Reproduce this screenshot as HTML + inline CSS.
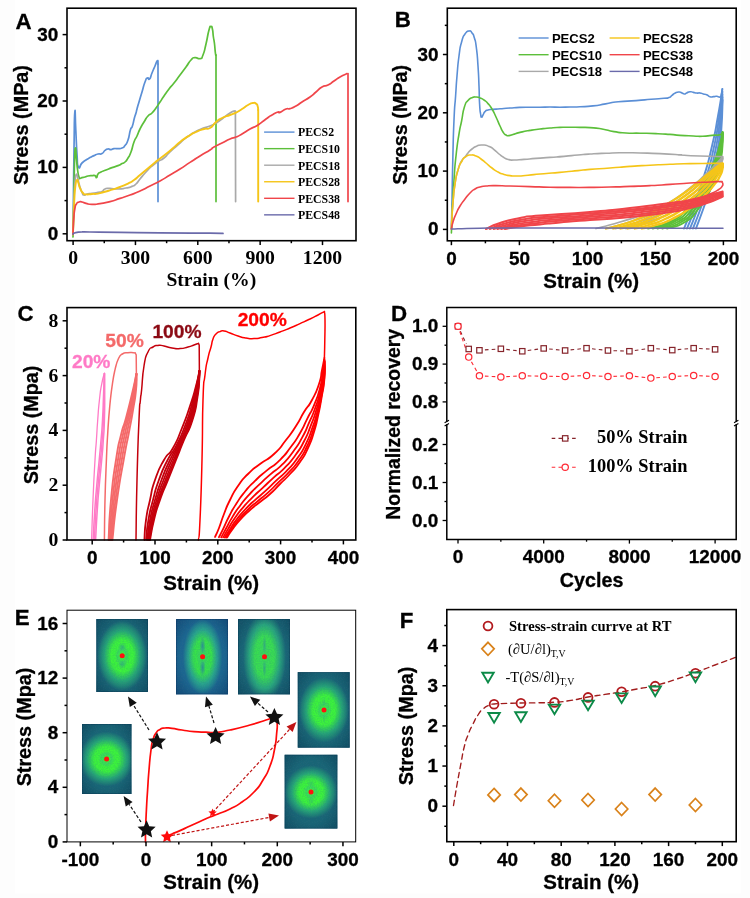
<!DOCTYPE html>
<html lang="en">
<head>
<meta charset="utf-8">
<title>Figure: mechanical properties of PECS elastomers</title>
<style>
html,body{margin:0;padding:0;background:#fff;}
body{width:750px;height:898px;overflow:hidden;}
svg{display:block;}
.sa{font-family:'Liberation Sans', 'DejaVu Sans', sans-serif;font-weight:bold;}
.se{font-family:'Liberation Serif', 'DejaVu Serif', serif;font-weight:bold;}
</style>
</head>
<body>
<svg width="750" height="898" viewBox="0 0 750 898">
<rect width="750" height="898" fill="#fdfdfd"/>
<rect x="15" y="0" width="726" height="893.5" fill="#fff"/>
<path d="M73 234 C73.13 222.67 73.07 228 73.4 200 C73.73 172 73.53 179.2 74 150 C74.47 120.8 74.2 119.07 74.8 112.4 C75.4 105.73 75.07 116.13 75.8 130 C76.53 143.87 76.13 141.67 77 154 C77.87 166.33 76.73 164 78.4 167 C80.07 170 79.47 165.33 82 163 C84.53 160.67 83.33 161.8 86 160 C88.67 158.2 87.33 159.07 90 157.6 C92.67 156.13 91.33 156.8 94 155.6 C96.67 154.4 95.33 154.67 98 154 C100.67 153.33 99.67 154.8 102 153.6 C104.33 152.4 103 151.93 105 150.4 C107 148.87 106 149.27 108 149 C110 148.73 109 149.73 111 149.6 C113 149.47 111.67 148.93 114 148.6 C116.33 148.27 115.33 148.8 118 148.6 C120.67 148.4 119.67 149 122 148 C124.33 147 123 148.27 125 145.6 C127 142.93 126.2 145.2 128 140 C129.8 134.8 128.93 134.67 130.4 130 C131.87 125.33 131.07 130 132.4 126 C133.73 122 133.2 122.33 134.4 118 C135.6 113.67 135.13 116 136 113 C136.87 110 136 112.67 137 109 C138 105.33 137.33 107.67 139 102 C140.67 96.33 140 98.67 142 92 C144 85.33 143.2 86.67 145 82 C146.8 77.33 145.87 79 147.4 78 C148.93 77 148.07 80.67 149.6 79 C151.13 77.33 150.2 77.33 152 73 C153.8 68.67 153.2 70.13 155 66 C156.8 61.87 156.4 61.27 157.4 60.6 C158.4 59.93 157.8 62.87 158 64" stroke="#5b8fd6" stroke-width="1.7" fill="none" stroke-linejoin="round" stroke-linecap="round"/>
<path d="M158 64 L158 201.6" stroke="#5b8fd6" stroke-width="1.7" fill="none" stroke-linejoin="round" stroke-linecap="round"/>
<path d="M73 237 C73.13 231.33 73.07 235.67 73.4 220 C73.73 204.33 73.6 210 74 190 C74.4 170 74.13 174 74.6 160 C75.07 146 74.8 148.67 75.4 148 C76 147.33 75.67 150.67 76.4 158 C77.13 165.33 76.73 163.67 77.6 170 C78.47 176.33 78.2 174.2 79 177 C79.8 179.8 79 178.2 80 178.4 C81 178.6 80.33 178.07 82 177.6 C83.67 177.13 83 177.53 85 177 C87 176.47 85.67 176.47 88 176 C90.33 175.53 89.67 175.73 92 175.6 C94.33 175.47 93.47 174.93 95 175.6 C96.53 176.27 95.6 178.13 96.6 177.6 C97.6 177.07 96.53 175.87 98 174 C99.47 172.13 98.33 173.33 101 172 C103.67 170.67 102.33 171.47 106 170 C109.67 168.53 108 169.07 112 167.6 C116 166.13 114.67 166.93 118 165.6 C121.33 164.27 119.67 164.8 122 163.6 C124.33 162.4 123 163.87 125 162 C127 160.13 126 161.33 128 158 C130 154.67 129 157.33 131 152 C133 146.67 132 147.33 134 142 C136 136.67 135 140.33 137 136 C139 131.67 137.67 133.67 140 129 C142.33 124.33 141.33 126.33 144 122 C146.67 117.67 145.33 119 148 116 C150.67 113 149.33 115.67 152 113 C154.67 110.33 153.33 111.67 156 108 C158.67 104.33 157.33 106 160 102 C162.67 98 161 100.33 164 96 C167 91.67 165.67 93.33 169 89 C172.33 84.67 170.33 87.67 174 83 C177.67 78.33 176 80.33 180 75 C184 69.67 182.33 72 186 67 C189.67 62 188 63.13 191 60 C194 56.87 192 58.07 195 57.6 C198 57.13 197.33 59.47 200 58.6 C202.67 57.73 201 59.87 203 55 C205 50.13 204 52.33 206 44 C208 35.67 207.33 35.8 209 30 C210.67 24.2 209.87 26.93 211 26.6 C212.13 26.27 211.6 25.53 212.4 29 C213.2 32.47 212.73 32.33 213.4 37 C214.07 41.67 213.73 37.67 214.4 43 C215.07 48.33 214.87 49 215.4 53 C215.93 57 215.8 54.33 216 55" stroke="#5cbf3a" stroke-width="1.7" fill="none" stroke-linejoin="round" stroke-linecap="round"/>
<path d="M216 55 L216 201.6" stroke="#5cbf3a" stroke-width="1.7" fill="none" stroke-linejoin="round" stroke-linecap="round"/>
<path d="M73 234.4 C73.13 229.6 73.07 231.47 73.4 220 C73.73 208.53 73.47 212.67 74 200 C74.53 187.33 74.2 190.53 75 182 C75.8 173.47 75.4 175.4 76.4 174.4 C77.4 173.4 77 175.47 78 179 C79 182.53 78.07 180.53 79.4 185 C80.73 189.47 80.47 189.07 82 192.4 C83.53 195.73 82.33 194.47 84 195 C85.67 195.53 84.33 194.53 87 194 C89.67 193.47 88.33 193.93 92 193.4 C95.67 192.87 94.67 193 98 192.4 C101.33 191.8 99.67 192.73 102 191.6 C104.33 190.47 102.33 190.07 105 189 C107.67 187.93 105.67 188.4 110 188.4 C114.33 188.4 112.67 189.13 118 189 C123.33 188.87 121.33 188.87 126 188 C130.67 187.13 128.67 187.73 132 186.4 C135.33 185.07 133.33 186.47 136 184 C138.67 181.53 136.67 183 140 179 C143.33 175 142 176.33 146 172 C150 167.67 148 169.47 152 166 C156 162.53 154 164.27 158 161.6 C162 158.93 160 161.2 164 158 C168 154.8 164.67 157 170 152 C175.33 147 173.33 148.67 180 143 C186.67 137.33 183.33 139.47 190 135 C196.67 130.53 193.33 132.6 200 129.6 C206.67 126.6 204.67 128.2 210 126 C215.33 123.8 212 125.33 216 123 C220 120.67 217.33 122.33 222 119 C226.67 115.67 225.73 115.67 230 113 C234.27 110.33 233.2 111.67 234.8 111" stroke="#a9a9a9" stroke-width="1.7" fill="none" stroke-linejoin="round" stroke-linecap="round"/>
<path d="M235.4 111 L235.6 201.6" stroke="#a9a9a9" stroke-width="1.7" fill="none" stroke-linejoin="round" stroke-linecap="round"/>
<path d="M73 234.4 C73.13 230.27 73 232.8 73.4 222 C73.8 211.2 73.53 214 74.2 202 C74.87 190 74.47 193.33 75.4 186 C76.33 178.67 76 181 77 180 C78 179 77.4 180.33 78.4 183 C79.4 185.67 78.47 184.67 80 188 C81.53 191.33 81 190.87 83 193 C85 195.13 83 194.07 86 194.4 C89 194.73 88 194.27 92 194 C96 193.73 94 194.27 98 193.6 C102 192.93 99.33 193.33 104 192 C108.67 190.67 106.67 191.27 112 189.6 C117.33 187.93 114.67 189 120 187 C125.33 185 123.33 185.93 128 183.6 C132.67 181.27 130 182.87 134 180 C138 177.13 136 178.33 140 175 C144 171.67 142 173.33 146 170 C150 166.67 148 168.33 152 165 C156 161.67 154 163.13 158 160 C162 156.87 159.33 159.27 164 155.6 C168.67 151.93 166.67 153.53 172 149 C177.33 144.47 174.67 146.2 180 142 C185.33 137.8 182.67 139.73 188 136.4 C193.33 133.07 190.67 134.47 196 132 C201.33 129.53 199.33 130.33 204 129 C208.67 127.67 206 130.33 210 128 C214 125.67 212 125.33 216 122 C220 118.67 217.33 120.33 222 118 C226.67 115.67 225.33 116.8 230 115 C234.67 113.2 232 114.6 236 112.6 C240 110.6 238 111.53 242 109 C246 106.47 244.33 107 248 105 C251.67 103 250.33 103.47 253 103 C255.67 102.53 254.47 102.6 256 103.6 C257.53 104.6 256.87 103.87 257.6 106 C258.33 108.13 258 108.67 258.2 110" stroke="#f5c518" stroke-width="1.9" fill="none" stroke-linejoin="round" stroke-linecap="round"/>
<path d="M258.2 110 L258.2 201.6" stroke="#f5c518" stroke-width="1.9" fill="none" stroke-linejoin="round" stroke-linecap="round"/>
<path d="M73 234.4 C73.07 232.27 72.93 233.47 73.2 228 C73.47 222.53 73.27 224.33 73.8 218 C74.33 211.67 73.93 213.67 74.8 209 C75.67 204.33 75 206.33 76.4 204 C77.8 201.67 77.13 202.67 79 202 C80.87 201.33 79.67 201.53 82 202 C84.33 202.47 82.67 202.6 86 203.4 C89.33 204.2 87.33 204.33 92 204.4 C96.67 204.47 94 204.53 100 203.6 C106 202.67 103.33 203.33 110 201.6 C116.67 199.87 113.33 200.6 120 198.4 C126.67 196.2 123.33 197.47 130 195 C136.67 192.53 133.33 194 140 191 C146.67 188 143.33 189.33 150 186 C156.67 182.67 153.33 184.67 160 181 C166.67 177.33 163.33 179 170 175 C176.67 171 173.33 173.2 180 169 C186.67 164.8 183.33 166.73 190 162.4 C196.67 158.07 193.33 160.13 200 156 C206.67 151.87 205.33 153 210 150 C214.67 147 210 149.33 214 147 C218 144.67 216.67 145.67 222 143 C227.33 140.33 225.33 141 230 139 C234.67 137 232 138.67 236 137 C240 135.33 237.33 136.67 242 134 C246.67 131.33 244.67 132 250 129 C255.33 126 252.67 128.33 258 125 C263.33 121.67 261.33 122.33 266 119 C270.67 115.67 268 117.33 272 115 C276 112.67 275.33 112.87 278 112 C280.67 111.13 277.33 113.4 280 112.4 C282.67 111.4 282.67 110.27 286 109 C289.33 107.73 286.67 109.6 290 108.6 C293.33 107.6 292 108.2 296 106 C300 103.8 297.33 105 302 102 C306.67 99 305.33 100.33 310 97 C314.67 93.67 312 95.33 316 92 C320 88.67 318 89.33 322 87 C326 84.67 324 87 328 85 C332 83 330 83.67 334 81 C338 78.33 335.67 79.47 340 77 C344.33 74.53 344.67 74.73 347 73.6" stroke="#f0454a" stroke-width="1.7" fill="none" stroke-linejoin="round" stroke-linecap="round"/>
<path d="M348 73.6 L348 201.6" stroke="#f0454a" stroke-width="1.7" fill="none" stroke-linejoin="round" stroke-linecap="round"/>
<path d="M73 234 C73.47 233.67 73.07 233.53 74.4 233 C75.73 232.47 74.47 232.73 77 232.4 C79.53 232.07 77.67 232.13 82 232 C86.33 231.87 77.33 231.87 90 232 C102.67 232.13 96.67 232.13 120 232.4 C143.33 232.67 130 232.53 160 232.8 C190 233.07 189 233 210 233.2 C231 233.4 218.67 233.33 223 233.4" stroke="#6a6aaa" stroke-width="1.7" fill="none" stroke-linejoin="round" stroke-linecap="round"/>
<rect x="67" y="8.2" width="289" height="232.5" fill="none" stroke="#000" stroke-width="1.6"/>
<line x1="62.6" y1="233.8" x2="67" y2="233.8" stroke="#000" stroke-width="1.5"/>
<text class="sa" x="58.3" y="239.8" font-size="18.9" text-anchor="end" stroke="#000" stroke-width="0.3">0</text>
<line x1="62.6" y1="167.4" x2="67" y2="167.4" stroke="#000" stroke-width="1.5"/>
<text class="sa" x="58.3" y="173.4" font-size="18.9" text-anchor="end" stroke="#000" stroke-width="0.3">10</text>
<line x1="62.6" y1="101" x2="67" y2="101" stroke="#000" stroke-width="1.5"/>
<text class="sa" x="58.3" y="107" font-size="18.9" text-anchor="end" stroke="#000" stroke-width="0.3">20</text>
<line x1="62.6" y1="34.6" x2="67" y2="34.6" stroke="#000" stroke-width="1.5"/>
<text class="sa" x="58.3" y="40.6" font-size="18.9" text-anchor="end" stroke="#000" stroke-width="0.3">30</text>
<line x1="64.5" y1="200.6" x2="67" y2="200.6" stroke="#000" stroke-width="1.5"/>
<line x1="64.5" y1="134.2" x2="67" y2="134.2" stroke="#000" stroke-width="1.5"/>
<line x1="64.5" y1="67.8" x2="67" y2="67.8" stroke="#000" stroke-width="1.5"/>
<line x1="73.1" y1="240.7" x2="73.1" y2="245.1" stroke="#000" stroke-width="1.5"/>
<text class="se" x="73.1" y="264" font-size="19.7" text-anchor="middle">0</text>
<line x1="135.45" y1="240.7" x2="135.45" y2="245.1" stroke="#000" stroke-width="1.5"/>
<text class="se" x="135.45" y="264" font-size="19.7" text-anchor="middle">300</text>
<line x1="197.8" y1="240.7" x2="197.8" y2="245.1" stroke="#000" stroke-width="1.5"/>
<text class="se" x="197.8" y="264" font-size="19.7" text-anchor="middle">600</text>
<line x1="260.15" y1="240.7" x2="260.15" y2="245.1" stroke="#000" stroke-width="1.5"/>
<text class="se" x="260.15" y="264" font-size="19.7" text-anchor="middle">900</text>
<line x1="322.5" y1="240.7" x2="322.5" y2="245.1" stroke="#000" stroke-width="1.5"/>
<text class="se" x="322.5" y="264" font-size="19.7" text-anchor="middle">1200</text>
<line x1="104.27" y1="240.7" x2="104.27" y2="243.2" stroke="#000" stroke-width="1.5"/>
<line x1="166.62" y1="240.7" x2="166.62" y2="243.2" stroke="#000" stroke-width="1.5"/>
<line x1="228.97" y1="240.7" x2="228.97" y2="243.2" stroke="#000" stroke-width="1.5"/>
<line x1="291.33" y1="240.7" x2="291.33" y2="243.2" stroke="#000" stroke-width="1.5"/>
<text class="sa" x="23.6" y="29.4" font-size="22.3" text-anchor="middle" stroke="#000" stroke-width="0.3">A</text>
<text class="sa" x="27.7" y="125" font-size="19.8" text-anchor="middle" stroke="#000" stroke-width="0.3" transform="rotate(-90 27.7 125)">Stress (MPa)</text>
<text class="se" x="211.3" y="285.8" font-size="19.6" text-anchor="middle">Strain (%)</text>
<line x1="264.1" y1="132.1" x2="294.5" y2="132.1" stroke="#5b8fd6" stroke-width="1.4"/>
<text class="se" x="298" y="136.4" font-size="11.8" text-anchor="start">PECS2</text>
<line x1="264.1" y1="148.65" x2="294.5" y2="148.65" stroke="#5cbf3a" stroke-width="1.4"/>
<text class="se" x="298" y="152.95" font-size="11.8" text-anchor="start">PECS10</text>
<line x1="264.1" y1="165.2" x2="294.5" y2="165.2" stroke="#a9a9a9" stroke-width="1.4"/>
<text class="se" x="298" y="169.5" font-size="11.8" text-anchor="start">PECS18</text>
<line x1="264.1" y1="181.75" x2="294.5" y2="181.75" stroke="#f5c518" stroke-width="1.4"/>
<text class="se" x="298" y="186.05" font-size="11.8" text-anchor="start">PECS28</text>
<line x1="264.1" y1="198.3" x2="294.5" y2="198.3" stroke="#f0454a" stroke-width="1.4"/>
<text class="se" x="298" y="202.6" font-size="11.8" text-anchor="start">PECS38</text>
<line x1="264.1" y1="214.85" x2="294.5" y2="214.85" stroke="#6a6aaa" stroke-width="1.4"/>
<text class="se" x="298" y="219.15" font-size="11.8" text-anchor="start">PECS48</text>
<path d="M451.4 229 C451.6 219.33 451.53 223 452 200 C452.47 177 452.13 186.67 452.8 160 C453.47 133.33 453.07 141.33 454 120 C454.93 98.67 454.6 110.67 455.6 96 C456.6 81.33 455.87 89.33 457 76 C458.13 62.67 457.47 67.33 459 56 C460.53 44.67 459.6 49.33 461.6 42 C463.6 34.67 462.53 37.67 465 34 C467.47 30.33 466.67 31.33 469 31 C471.33 30.67 470.2 30.67 472 33 C473.8 35.33 472.93 33 474.4 38 C475.87 43 475.2 38.67 476.4 48 C477.6 57.33 477.13 53.33 478 66 C478.87 78.67 478.47 73.33 479 86 C479.53 98.67 479.07 94.67 479.6 104 C480.13 113.33 479.93 109.67 480.6 114 C481.27 118.33 480.8 116.67 481.6 117 C482.4 117.33 481.87 116.8 483 115 C484.13 113.2 483.33 113.27 485 111.6 C486.67 109.93 485.33 110.73 488 110 C490.67 109.27 489 109.8 493 109.4 C497 109 494.33 109.27 500 108.8 C505.67 108.33 503.33 108.47 510 108 C516.67 107.53 513.33 107.67 520 107.4 C526.67 107.13 523.33 107.27 530 107.2 C536.67 107.13 533.33 107.27 540 107.2 C546.67 107.13 543.33 107 550 107 C556.67 107 553.33 107.2 560 107.2 C566.67 107.2 563.33 107.13 570 107 C576.67 106.87 572.33 107.17 580 106.8 C587.67 106.43 584.47 106.87 593 105.9 C601.53 104.93 597.17 105.27 605.6 103.9 C614.03 102.53 608.17 102.9 618.3 101.8 C628.43 100.7 625.03 101.43 636 100.6 C646.97 99.77 641.87 100.07 651.2 99.3 C660.53 98.53 658.07 98.87 664 98.3 C669.93 97.73 666.33 98.59 669 97.6 C671.67 96.61 669.89 96.89 672 95.33 C674.11 93.78 672.89 94.04 675.33 92.93 C677.78 91.82 677.11 91.96 679.33 92 C681.56 92.04 680.31 92.4 682 93.07 C683.69 93.73 682.84 94.04 684.4 94 C685.96 93.96 684.8 93.69 686.67 92.93 C688.53 92.18 687.78 91.91 690 91.73 C692.22 91.56 691.11 91.96 693.33 92.4 C695.56 92.84 694.44 92.89 696.67 93.07 C698.89 93.24 697.78 92.62 700 92.93 C702.22 93.24 701.11 93.42 703.33 94 C705.56 94.58 704.44 93.78 706.67 94.67 C708.89 95.56 707.78 96 710 96.67 C712.22 97.33 711.11 96.8 713.33 96.67 C715.56 96.53 714.44 96.13 716.67 96.27 C718.89 96.4 718.44 97.6 720 97.07 C721.56 96.53 720.58 97.33 721.33 94.67 C722.09 92 721.96 90.93 722.27 89.07" stroke="#5b8fd6" stroke-width="1.6" fill="none" stroke-linejoin="round" stroke-linecap="round"/>
<path d="M684 228.5 C687.33 220.33 687.33 221.5 694 204 C700.67 186.5 698 195.33 704 176 C710 156.67 707.33 166 712 146 C716.67 126 714.53 135 718 116 C721.47 97 720.93 98 722.4 89" stroke="#5b8fd6" stroke-width="1.9" fill="none" stroke-linejoin="round" stroke-linecap="round"/>
<path d="M687 228.5 C690.25 220.33 690.33 221.17 696.75 204 C703.17 186.83 700.62 195.5 706.25 177 C711.88 158.5 709.43 167.67 713.62 148.5 C717.82 129.33 715.88 138.42 718.83 119.5 C721.77 100.58 721.24 101 722.45 91.75" stroke="#5b8fd6" stroke-width="1.9" fill="none" stroke-linejoin="round" stroke-linecap="round"/>
<path d="M690 228.5 C693.17 220.33 693.33 220.83 699.5 204 C705.67 187.17 703.25 195.67 708.5 178 C713.75 160.33 711.53 169.33 715.25 151 C718.97 132.67 717.23 141.83 719.65 123 C722.07 104.17 721.55 104 722.5 94.5" stroke="#5b8fd6" stroke-width="1.9" fill="none" stroke-linejoin="round" stroke-linecap="round"/>
<path d="M693 228.5 C696.08 220.33 696.33 220.5 702.25 204 C708.17 187.5 705.88 195.83 710.75 179 C715.62 162.17 713.63 171 716.88 153.5 C720.12 136 718.58 145.25 720.47 126.5 C722.37 107.75 721.86 107 722.55 97.25" stroke="#5b8fd6" stroke-width="1.9" fill="none" stroke-linejoin="round" stroke-linecap="round"/>
<path d="M696 228.5 C699 220.33 699.33 220.17 705 204 C710.67 187.83 708.5 196 713 180 C717.5 164 715.73 172.67 718.5 156 C721.27 139.33 719.93 148.67 721.3 130 C722.67 111.33 722.17 110 722.6 100" stroke="#5b8fd6" stroke-width="1.9" fill="none" stroke-linejoin="round" stroke-linecap="round"/>
<path d="M451.4 233 C451.73 224.67 451.53 225.67 452.4 208 C453.27 190.33 452.8 197.33 454 180 C455.2 162.67 454.33 171.33 456 156 C457.67 140.67 457.13 145.67 459 134 C460.87 122.33 459.8 130 461.6 121 C463.4 112 462.27 113.8 464.4 107 C466.53 100.2 465.47 103.67 468 100.6 C470.53 97.53 469.33 99 472 97.8 C474.67 96.6 473.33 96.93 476 97 C478.67 97.07 477.33 97 480 98 C482.67 99 481.33 98.13 484 100 C486.67 101.87 485.33 100.6 488 103.6 C490.67 106.6 489.33 104.53 492 109 C494.67 113.47 493.33 111.33 496 117 C498.67 122.67 497.67 121 500 126 C502.33 131 501 129 503 132 C505 135 504 133.8 506 135 C508 136.2 506.67 135.8 509 135.6 C511.33 135.4 509.33 135.47 513 134.4 C516.67 133.33 514.33 133.73 520 132.4 C525.67 131.07 523.33 131.53 530 130.4 C536.67 129.27 533.33 129.8 540 129 C546.67 128.2 543.33 128.53 550 128 C556.67 127.47 553.33 127.67 560 127.4 C566.67 127.13 563.33 127.2 570 127.2 C576.67 127.2 573.33 127.27 580 127.4 C586.67 127.53 582.67 127.07 590 127.6 C597.33 128.13 594 127.67 602 129 C610 130.33 606 130.27 614 131.6 C622 132.93 617.33 132.47 626 133 C634.67 133.53 630 133 640 133.2 C650 133.4 646 133.2 656 133.6 C666 134 662 133.82 670 134.4 C678 134.98 672.22 134.8 680 135.33 C687.78 135.87 685.78 135.69 693.33 136 C700.89 136.31 696.44 136.49 702.67 136.27 C708.89 136.04 706.22 135.87 712 135.33 C717.78 134.8 716.44 135.69 720 134.67 C723.56 133.64 721.78 133.07 722.67 132.27" stroke="#5cbf3a" stroke-width="1.6" fill="none" stroke-linejoin="round" stroke-linecap="round"/>
<path d="M648 228.5 C655.33 226.33 657.33 228.17 670 222 C682.67 215.83 676.67 219.33 686 210 C695.33 200.67 690.67 205.33 698 194 C705.33 182.67 702.33 187.33 708 176 C713.67 164.67 711 170.67 715 160 C719 149.33 717.47 153.33 720 144 C722.53 134.67 721.73 136 722.6 132" stroke="#5cbf3a" stroke-width="2" fill="none" stroke-linejoin="round" stroke-linecap="round"/>
<path d="M652.75 228.5 C659.75 226.33 661.58 228.33 673.75 222 C685.92 215.67 680.25 219 689.25 209.5 C698.25 200 693.83 204.67 700.75 193.5 C707.67 182.33 704.79 187.17 710 176 C715.21 164.83 712.84 170.5 716.38 160 C719.91 149.5 718.51 153.67 720.6 144.5 C722.69 135.33 721.97 136.5 722.65 132.5" stroke="#5cbf3a" stroke-width="2" fill="none" stroke-linejoin="round" stroke-linecap="round"/>
<path d="M657.5 228.5 C664.17 226.33 665.83 228.5 677.5 222 C689.17 215.5 683.83 218.67 692.5 209 C701.17 199.33 697 204 703.5 193 C710 182 707.25 187 712 176 C716.75 165 714.68 170.33 717.75 160 C720.82 149.67 719.55 154 721.2 145 C722.85 136 722.2 137 722.7 133" stroke="#5cbf3a" stroke-width="2" fill="none" stroke-linejoin="round" stroke-linecap="round"/>
<path d="M662.25 228.5 C668.58 226.33 670.08 228.67 681.25 222 C692.42 215.33 687.42 218.33 695.75 208.5 C704.08 198.67 700.17 203.33 706.25 192.5 C712.33 181.67 709.71 186.83 714 176 C718.29 165.17 716.52 170.17 719.12 160 C721.73 149.83 720.59 154.33 721.8 145.5 C723.01 136.67 722.43 137.5 722.75 133.5" stroke="#5cbf3a" stroke-width="2" fill="none" stroke-linejoin="round" stroke-linecap="round"/>
<path d="M667 228.5 C673 226.33 674.33 228.83 685 222 C695.67 215.17 691 218 699 208 C707 198 703.33 202.67 709 192 C714.67 181.33 712.17 186.67 716 176 C719.83 165.33 718.37 170 720.5 160 C722.63 150 721.63 154.67 722.4 146 C723.17 137.33 722.67 138 722.8 134" stroke="#5cbf3a" stroke-width="2" fill="none" stroke-linejoin="round" stroke-linecap="round"/>
<path d="M451.4 229 C451.6 224.67 451.4 225.67 452 216 C452.6 206.33 452.2 210.67 453.2 200 C454.2 189.33 453.4 194 455 184 C456.6 174 455.8 177.67 458 170 C460.2 162.33 459.27 165.33 461.6 161 C463.93 156.67 462.87 159.67 465 157 C467.13 154.33 465.67 155.67 468 153 C470.33 150.33 469 151.33 472 149 C475 146.67 473.33 147.33 477 146 C480.67 144.67 479 144.87 483 145 C487 145.13 485.33 144.87 489 146.4 C492.67 147.93 490.67 147.07 494 149.6 C497.33 152.13 495.67 151.33 499 154 C502.33 156.67 500.67 155.73 504 157.6 C507.33 159.47 505.67 158.8 509 159.6 C512.33 160.4 509 160.07 514 160 C519 159.93 516.67 159.93 524 159.4 C531.33 158.87 527.33 159.07 536 158.4 C544.67 157.73 540.67 158.07 550 157.4 C559.33 156.73 554.67 157.2 564 156.4 C573.33 155.6 569.33 155.8 578 155 C586.67 154.2 580.67 154.6 590 154 C599.33 153.4 595.33 153.6 606 153.2 C616.67 152.8 610.67 152.87 622 152.8 C633.33 152.73 627.33 152.73 640 153 C652.67 153.27 646.67 153 660 153.6 C673.33 154.2 673.33 154.36 680 154.8 C686.67 155.24 673.33 154.53 680 154.93 C686.67 155.33 685.78 155.42 700 156 C714.22 156.58 715.11 156.44 722.67 156.67" stroke="#a9a9a9" stroke-width="1.6" fill="none" stroke-linejoin="round" stroke-linecap="round"/>
<path d="M596 228.5 C604 226.33 602 227.5 620 222 C638 216.5 633.33 218.67 650 212 C666.67 205.33 656.67 210 670 202 C683.33 194 678 197.33 690 188 C702 178.67 697.33 182 706 174 C714.67 166 710.47 169.67 716 164 C721.53 158.33 720.4 159.33 722.6 157" stroke="#a9a9a9" stroke-width="1.8" fill="none" stroke-linejoin="round" stroke-linecap="round"/>
<path d="M606 228.5 C613.78 226.33 612.22 227.5 629.33 222 C646.44 216.5 641.56 218.89 657.33 212 C673.11 205.11 664.22 209.33 676.67 201.33 C689.11 193.33 684 196.89 694.67 188 C705.33 179.11 701.11 182.44 708.67 174.67 C716.22 166.89 712.67 170.33 717.33 164.67 C722 159 720.89 160 722.67 157.67" stroke="#a9a9a9" stroke-width="1.8" fill="none" stroke-linejoin="round" stroke-linecap="round"/>
<path d="M616 228.5 C623.56 226.33 622.44 227.5 638.67 222 C654.89 216.5 649.78 219.11 664.67 212 C679.56 204.89 671.78 208.67 683.33 200.67 C694.89 192.67 690 196.44 699.33 188 C708.67 179.56 704.89 182.89 711.33 175.33 C717.78 167.78 714.87 171 718.67 165.33 C722.47 159.67 721.38 160.67 722.73 158.33" stroke="#a9a9a9" stroke-width="1.8" fill="none" stroke-linejoin="round" stroke-linecap="round"/>
<path d="M626 228.5 C633.33 226.33 632.67 227.5 648 222 C663.33 216.5 658 219.33 672 212 C686 204.67 679.33 208 690 200 C700.67 192 696 196 704 188 C712 180 708.67 183.33 714 176 C719.33 168.67 717.07 171.67 720 166 C722.93 160.33 721.87 161.33 722.8 159" stroke="#a9a9a9" stroke-width="1.8" fill="none" stroke-linejoin="round" stroke-linecap="round"/>
<path d="M451.4 229 C451.6 224.67 451.4 225.67 452 216 C452.6 206.33 452.2 210.67 453.2 200 C454.2 189.33 453.4 194 455 184 C456.6 174 455.67 177.67 458 170 C460.33 162.33 459.33 165.47 462 161 C464.67 156.53 463 158.6 466 156.6 C469 154.6 467.67 155.2 471 155 C474.33 154.8 472.67 154.67 476 156 C479.33 157.33 477.67 156.67 481 159 C484.33 161.33 482.33 160 486 163 C489.67 166 488 165 492 168 C496 171 494 169.87 498 172 C502 174.13 500 173.2 504 174.4 C508 175.6 505.33 175.07 510 175.6 C514.67 176.13 512 176.13 518 176 C524 175.87 520.67 175.87 528 175.2 C535.33 174.53 532 174.73 540 174 C548 173.27 544 173.67 552 173 C560 172.33 555.33 172.8 564 172 C572.67 171.2 569.33 171.47 578 170.6 C586.67 169.73 579.33 170.27 590 169.4 C600.67 168.53 596.67 169 610 168 C623.33 167 616.67 167.33 630 166.4 C643.33 165.47 636.67 165.93 650 165.2 C663.33 164.47 656.67 164.73 670 164.2 C683.33 163.67 676.67 163.87 690 163.6 C703.33 163.33 699.13 163.5 710 163.4 C720.87 163.3 718.4 163.33 722.6 163.3" stroke="#f5c518" stroke-width="1.6" fill="none" stroke-linejoin="round" stroke-linecap="round"/>
<path d="M606 228.5 C610.67 227.33 608.67 228.5 620 225 C631.33 221.5 626.67 223.67 640 218 C653.33 212.33 646.67 215.33 660 208 C673.33 200.67 668 204 680 196 C692 188 686.67 191.33 696 184 C705.33 176.67 700.67 180 708 174 C715.33 168 713.13 169.5 718 166 C722.87 162.5 721.07 164.33 722.6 163.5" stroke="#f5c518" stroke-width="2.3" fill="none" stroke-linejoin="round" stroke-linecap="round"/>
<path d="M613.2 228.5 C617.87 227.33 616.13 228.43 627.2 225 C638.27 221.57 633.47 223.87 646.4 218.2 C659.33 212.53 653.2 215.4 666 208 C678.8 200.6 673.6 203.93 684.8 196 C696 188.07 691.07 191.4 699.6 184.2 C708.13 177 703.97 180.27 710.4 174.4 C716.83 168.53 714.82 170.13 718.9 166.6 C722.98 163.07 721.39 164.73 722.64 163.8" stroke="#f5c518" stroke-width="2.3" fill="none" stroke-linejoin="round" stroke-linecap="round"/>
<path d="M620.4 228.5 C625.07 227.33 623.6 228.37 634.4 225 C645.2 221.63 640.27 224.07 652.8 218.4 C665.33 212.73 659.73 215.47 672 208 C684.27 200.53 679.2 203.87 689.6 196 C700 188.13 695.47 191.47 703.2 184.4 C710.93 177.33 707.27 180.53 712.8 174.8 C718.33 169.07 716.51 170.77 719.8 167.2 C723.09 163.63 721.72 165.13 722.68 164.1" stroke="#f5c518" stroke-width="2.3" fill="none" stroke-linejoin="round" stroke-linecap="round"/>
<path d="M627.6 228.5 C632.27 227.33 631.07 228.3 641.6 225 C652.13 221.7 647.07 224.27 659.2 218.6 C671.33 212.93 666.27 215.53 678 208 C689.73 200.47 684.8 203.8 694.4 196 C704 188.2 699.87 191.53 706.8 184.6 C713.73 177.67 710.57 180.8 715.2 175.2 C719.83 169.6 718.19 171.4 720.7 167.8 C723.21 164.2 722.05 165.53 722.72 164.4" stroke="#f5c518" stroke-width="2.3" fill="none" stroke-linejoin="round" stroke-linecap="round"/>
<path d="M634.8 228.5 C639.47 227.33 638.53 228.23 648.8 225 C659.07 221.77 653.87 224.47 665.6 218.8 C677.33 213.13 672.8 215.6 684 208 C695.2 200.4 690.4 203.73 699.2 196 C708 188.27 704.27 191.6 710.4 184.8 C716.53 178 713.87 181.07 717.6 175.6 C721.33 170.13 719.88 172.03 721.6 168.4 C723.32 164.77 722.37 165.93 722.76 164.7" stroke="#f5c518" stroke-width="2.3" fill="none" stroke-linejoin="round" stroke-linecap="round"/>
<path d="M642 228.5 C646.67 227.33 646 228.17 656 225 C666 221.83 660.67 224.67 672 219 C683.33 213.33 679.33 215.67 690 208 C700.67 200.33 696 203.67 704 196 C712 188.33 708.67 191.67 714 185 C719.33 178.33 717.17 181.33 720 176 C722.83 170.67 721.57 172.67 722.5 169 C723.43 165.33 722.7 166.33 722.8 165" stroke="#f5c518" stroke-width="2.3" fill="none" stroke-linejoin="round" stroke-linecap="round"/>
<path d="M451.4 229 C451.93 226.67 451.47 227 453 222 C454.53 217 453.67 219.33 456 214 C458.33 208.67 457 211 460 206 C463 201 461.67 203.33 465 199 C468.33 194.67 466.67 196.33 470 193 C473.33 189.67 471.67 191 475 189 C478.33 187 476.33 188 480 187 C483.67 186 480.67 186.47 486 186 C491.33 185.53 488 185.6 496 185.6 C504 185.6 498.67 185.67 510 186 C521.33 186.33 516.67 186.2 530 186.6 C543.33 187 536.67 186.93 550 187.2 C563.33 187.47 556.67 187.33 570 187.4 C583.33 187.47 576.67 187.53 590 187.4 C603.33 187.27 596.67 187.33 610 187 C623.33 186.67 616.67 186.87 630 186.4 C643.33 185.93 636.67 186.27 650 185.6 C663.33 184.93 656.67 185.27 670 184.4 C683.33 183.53 676.67 183.8 690 183 C703.33 182.2 700 182.47 710 182 C720 181.53 716 181.53 720 181.6 C724 181.67 721.07 181.4 722 182.2 C722.93 183 722.8 182.6 722.8 184 C722.8 185.4 723.6 184.4 722 186.4 C720.4 188.4 722 187.47 718 190 C714 192.53 716 191.33 710 194 C704 196.67 706.67 195.67 700 198 C693.33 200.33 700 198.67 690 201 C680 203.33 683.33 202.67 670 205 C656.67 207.33 663.33 206.33 650 208 C636.67 209.67 643.33 208.67 630 210 C616.67 211.33 623.33 210.67 610 212 C596.67 213.33 596.67 213.33 590 214" stroke="#f0454a" stroke-width="1.6" fill="none" stroke-linejoin="round" stroke-linecap="round"/>
<path d="M486 229 C490.67 227 488.67 226.67 500 223 C511.33 219.33 506.67 220.47 520 218 C533.33 215.53 516.67 217.6 540 215.6 C563.33 213.6 560 214.53 590 212 C620 209.47 603.33 211 630 208 C656.67 205 650 205.67 670 203 C690 200.33 676.67 202.67 690 200 C703.33 197.33 699.13 197.83 710 195 C720.87 192.17 718.4 192.67 722.6 191.5" stroke="#f0454a" stroke-width="2" fill="none" stroke-linejoin="round" stroke-linecap="round"/>
<path d="M489.8 229 C494.53 227.23 492.6 226.93 504 223.7 C515.4 220.47 510.67 221.54 524 219.3 C537.33 217.06 522 218.88 544 216.98 C566 215.08 561.33 215.99 590 213.6 C618.67 211.21 603.33 212.73 630 209.8 C656.67 206.87 650 207.53 670 204.8 C690 202.07 676.67 204.4 690 201.6 C703.33 198.8 699.12 199.43 710 196.4 C720.88 193.37 718.43 193.8 722.64 192.5" stroke="#f0454a" stroke-width="2" fill="none" stroke-linejoin="round" stroke-linecap="round"/>
<path d="M493.6 229 C498.4 227.47 496.53 227.2 508 224.4 C519.47 221.6 514.67 222.61 528 220.6 C541.33 218.59 527.33 220.16 548 218.36 C568.67 216.56 562.67 217.45 590 215.2 C617.33 212.95 603.33 214.47 630 211.6 C656.67 208.73 650 209.4 670 206.6 C690 203.8 676.67 206.13 690 203.2 C703.33 200.27 699.11 201.03 710 197.8 C720.89 194.57 718.45 194.93 722.68 193.5" stroke="#f0454a" stroke-width="2" fill="none" stroke-linejoin="round" stroke-linecap="round"/>
<path d="M497.4 229 C502.27 227.7 500.47 227.47 512 225.1 C523.53 222.73 518.67 223.69 532 221.9 C545.33 220.11 532.67 221.44 552 219.74 C571.33 218.04 564 218.91 590 216.8 C616 214.69 603.33 216.2 630 213.4 C656.67 210.6 650 211.27 670 208.4 C690 205.53 676.67 207.87 690 204.8 C703.33 201.73 699.09 202.63 710 199.2 C720.91 195.77 718.48 196.07 722.72 194.5" stroke="#f0454a" stroke-width="2" fill="none" stroke-linejoin="round" stroke-linecap="round"/>
<path d="M501.2 229 C506.13 227.93 504.4 227.73 516 225.8 C527.6 223.87 522.67 224.76 536 223.2 C549.33 221.64 538 222.72 556 221.12 C574 219.52 565.33 220.37 590 218.4 C614.67 216.43 603.33 217.93 630 215.2 C656.67 212.47 650 213.13 670 210.2 C690 207.27 676.67 209.6 690 206.4 C703.33 203.2 699.08 204.23 710 200.6 C720.92 196.97 718.51 197.2 722.76 195.5" stroke="#f0454a" stroke-width="2" fill="none" stroke-linejoin="round" stroke-linecap="round"/>
<path d="M505 229 C510 228.17 508.33 228 520 226.5 C531.67 225 526.67 225.83 540 224.5 C553.33 223.17 543.33 224 560 222.5 C576.67 221 566.67 221.83 590 220 C613.33 218.17 603.33 219.67 630 217 C656.67 214.33 650 215 670 212 C690 209 676.67 211.33 690 208 C703.33 204.67 699.07 205.83 710 202 C720.93 198.17 718.53 198.33 722.8 196.5" stroke="#f0454a" stroke-width="2" fill="none" stroke-linejoin="round" stroke-linecap="round"/>
<path d="M451.4 229 C460.93 228.73 457.13 228.53 480 228.2 C502.87 227.87 483.33 228.07 520 228 C556.67 227.93 522.33 227.93 590 228 C657.67 228.07 678.67 228.13 723 228.2" stroke="#6a6aaa" stroke-width="1.5" fill="none" stroke-linejoin="round" stroke-linecap="round"/>
<rect x="447.3" y="8.2" width="288.9" height="232.6" fill="none" stroke="#000" stroke-width="1.6"/>
<line x1="442.9" y1="229.4" x2="447.3" y2="229.4" stroke="#000" stroke-width="1.5"/>
<text class="sa" x="438.6" y="235.4" font-size="18.9" text-anchor="end" stroke="#000" stroke-width="0.3">0</text>
<line x1="442.9" y1="171.1" x2="447.3" y2="171.1" stroke="#000" stroke-width="1.5"/>
<text class="sa" x="438.6" y="177.1" font-size="18.9" text-anchor="end" stroke="#000" stroke-width="0.3">10</text>
<line x1="442.9" y1="112.8" x2="447.3" y2="112.8" stroke="#000" stroke-width="1.5"/>
<text class="sa" x="438.6" y="118.8" font-size="18.9" text-anchor="end" stroke="#000" stroke-width="0.3">20</text>
<line x1="442.9" y1="54.5" x2="447.3" y2="54.5" stroke="#000" stroke-width="1.5"/>
<text class="sa" x="438.6" y="60.5" font-size="18.9" text-anchor="end" stroke="#000" stroke-width="0.3">30</text>
<line x1="444.8" y1="200.25" x2="447.3" y2="200.25" stroke="#000" stroke-width="1.5"/>
<line x1="444.8" y1="141.95" x2="447.3" y2="141.95" stroke="#000" stroke-width="1.5"/>
<line x1="444.8" y1="83.65" x2="447.3" y2="83.65" stroke="#000" stroke-width="1.5"/>
<line x1="444.8" y1="25.35" x2="447.3" y2="25.35" stroke="#000" stroke-width="1.5"/>
<line x1="451.4" y1="240.8" x2="451.4" y2="245.2" stroke="#000" stroke-width="1.5"/>
<text class="sa" x="451.4" y="264.7" font-size="18.9" text-anchor="middle" stroke="#000" stroke-width="0.3">0</text>
<line x1="519.4" y1="240.8" x2="519.4" y2="245.2" stroke="#000" stroke-width="1.5"/>
<text class="sa" x="519.4" y="264.7" font-size="18.9" text-anchor="middle" stroke="#000" stroke-width="0.3">50</text>
<line x1="587.4" y1="240.8" x2="587.4" y2="245.2" stroke="#000" stroke-width="1.5"/>
<text class="sa" x="587.4" y="264.7" font-size="18.9" text-anchor="middle" stroke="#000" stroke-width="0.3">100</text>
<line x1="655.4" y1="240.8" x2="655.4" y2="245.2" stroke="#000" stroke-width="1.5"/>
<text class="sa" x="655.4" y="264.7" font-size="18.9" text-anchor="middle" stroke="#000" stroke-width="0.3">150</text>
<line x1="723.4" y1="240.8" x2="723.4" y2="245.2" stroke="#000" stroke-width="1.5"/>
<text class="sa" x="723.4" y="264.7" font-size="18.9" text-anchor="middle" stroke="#000" stroke-width="0.3">200</text>
<line x1="485.4" y1="240.8" x2="485.4" y2="243.3" stroke="#000" stroke-width="1.5"/>
<line x1="553.4" y1="240.8" x2="553.4" y2="243.3" stroke="#000" stroke-width="1.5"/>
<line x1="621.4" y1="240.8" x2="621.4" y2="243.3" stroke="#000" stroke-width="1.5"/>
<line x1="689.4" y1="240.8" x2="689.4" y2="243.3" stroke="#000" stroke-width="1.5"/>
<text class="sa" x="402.7" y="26.6" font-size="22.3" text-anchor="middle" stroke="#000" stroke-width="0.3">B</text>
<text class="sa" x="406.6" y="124.7" font-size="19.8" text-anchor="middle" stroke="#000" stroke-width="0.3" transform="rotate(-90 406.6 124.7)">Stress (MPa)</text>
<text class="sa" x="591.2" y="288.3" font-size="20.5" text-anchor="middle" stroke="#000" stroke-width="0.3">Strain (%)</text>
<line x1="518.6" y1="38" x2="548.6" y2="38" stroke="#5b8fd6" stroke-width="1.4"/>
<text class="sa" x="551.9" y="42.9" font-size="13.1" text-anchor="start">PECS2</text>
<line x1="518.6" y1="54.7" x2="548.6" y2="54.7" stroke="#5cbf3a" stroke-width="1.4"/>
<text class="sa" x="551.9" y="59.6" font-size="13.1" text-anchor="start">PECS10</text>
<line x1="518.6" y1="71.4" x2="548.6" y2="71.4" stroke="#a9a9a9" stroke-width="1.4"/>
<text class="sa" x="551.9" y="76.3" font-size="13.1" text-anchor="start">PECS18</text>
<line x1="609.6" y1="38" x2="639.6" y2="38" stroke="#f5c518" stroke-width="1.4"/>
<text class="sa" x="642.9" y="42.9" font-size="13.1" text-anchor="start">PECS28</text>
<line x1="609.6" y1="54.7" x2="639.6" y2="54.7" stroke="#f0454a" stroke-width="1.4"/>
<text class="sa" x="642.9" y="59.6" font-size="13.1" text-anchor="start">PECS38</text>
<line x1="609.6" y1="71.4" x2="639.6" y2="71.4" stroke="#6a6aaa" stroke-width="1.4"/>
<text class="sa" x="642.9" y="76.3" font-size="13.1" text-anchor="start">PECS48</text>
<path d="M91.6 540 C92.07 526.67 91.87 526.67 93 500 C94.13 473.33 93.87 479.9 95 460 C96.13 440.1 95.5 453.57 96.4 440.3 C97.3 427.03 96.7 433.57 97.7 420.2 C98.7 406.83 98.07 412.23 99.4 400.2 C100.73 388.17 100.03 393.03 101.7 384.1 C103.37 375.17 103.5 376.97 104.4 373.4" stroke="#ff7ac6" stroke-width="1.3" fill="none" stroke-linejoin="round" stroke-linecap="round"/>
<path d="M93.1 540 C93.67 530 93.57 528.33 94.8 510 C96.03 491.67 95.33 501.67 96.8 485 C98.27 468.33 97.8 474.9 99.2 460 C100.6 445.1 99.9 453.57 101 440.3 C102.1 427.03 101.63 435.8 102.5 420.2 C103.37 404.6 102.97 409.1 103.6 393.5 C104.23 377.9 104.13 380.1 104.4 373.4" stroke="#ff7ac6" stroke-width="1.5" fill="none" stroke-linejoin="round" stroke-linecap="round"/>
<path d="M94.35 540 C94.92 530 94.82 528.33 96.05 510 C97.28 491.67 96.58 501.67 98.05 485 C99.52 468.33 99.08 474.9 100.45 460 C101.82 445.1 101.15 453.57 102.15 440.3 C103.15 427.03 102.78 435.8 103.45 420.2 C104.12 404.6 103.82 409.1 104.15 393.5 C104.48 377.9 104.35 380.1 104.45 373.4" stroke="#ff7ac6" stroke-width="1.5" fill="none" stroke-linejoin="round" stroke-linecap="round"/>
<path d="M95.6 540 C96.17 530 96.07 528.33 97.3 510 C98.53 491.67 97.83 501.67 99.3 485 C100.77 468.33 100.37 474.9 101.7 460 C103.03 445.1 102.4 453.57 103.3 440.3 C104.2 427.03 103.93 435.8 104.4 420.2 C104.87 404.6 104.67 409.1 104.7 393.5 C104.73 377.9 104.57 380.1 104.5 373.4" stroke="#ff7ac6" stroke-width="1.5" fill="none" stroke-linejoin="round" stroke-linecap="round"/>
<path d="M104.4 540 C104.56 529.33 104.47 521.33 105 500 C105.53 478.67 105.68 477.71 106.4 460 C107.12 442.29 106.82 447.79 107.7 433.6 C108.58 419.41 108.45 420 109.7 406.8 C110.95 393.6 110.96 394.07 112.4 384.1 C113.84 374.13 113.5 376.17 115.1 369.4 C116.7 362.63 116.45 362.81 118.4 358.7 C120.35 354.59 119.89 355.6 122.4 354 C124.91 352.4 124.95 353.05 127.8 352.7 C130.65 352.35 131.13 352.62 133.1 352.7 C135.07 352.78 134.64 352.92 135.2 353" stroke="#f46a6a" stroke-width="1.5" fill="none" stroke-linejoin="round" stroke-linecap="round"/>
<path d="M135.2 353 L136.2 354.8 L136.4 374" stroke="#f46a6a" stroke-width="1.5" fill="none" stroke-linejoin="round" stroke-linecap="round"/>
<path d="M108.6 540 C109.4 526.67 108.53 526.67 111 500 C113.47 473.33 112.67 481.67 116 460 C119.33 438.33 117.67 449 121 435 C124.33 421 122.33 431.67 126 418 C129.67 404.33 128.53 408.67 132 394 C135.47 379.33 134.93 380.67 136.4 374" stroke="#f46a6a" stroke-width="1.9" fill="none" stroke-linejoin="round" stroke-linecap="round"/>
<path d="M109.55 540 C110.53 526.67 109.68 526.83 112.5 500 C115.32 473.17 114.5 481.42 118 459.5 C121.5 437.58 119.75 448.75 123 434.25 C126.25 419.75 124.42 429.75 127.75 416 C131.08 402.25 130.11 407 133 393 C135.89 379 135.28 380.33 136.43 374" stroke="#f46a6a" stroke-width="1.9" fill="none" stroke-linejoin="round" stroke-linecap="round"/>
<path d="M110.5 540 C111.67 526.67 110.83 527 114 500 C117.17 473 116.33 481.17 120 459 C123.67 436.83 121.83 448.5 125 433.5 C128.17 418.5 126.5 427.83 129.5 414 C132.5 400.17 131.68 405.33 134 392 C136.32 378.67 135.63 380 136.45 374" stroke="#f46a6a" stroke-width="1.9" fill="none" stroke-linejoin="round" stroke-linecap="round"/>
<path d="M111.45 540 C112.8 526.67 111.98 527.17 115.5 500 C119.02 472.83 118.17 480.92 122 458.5 C125.83 436.08 123.92 448.25 127 432.75 C130.08 417.25 128.58 425.92 131.25 412 C133.92 398.08 133.26 403.67 135 391 C136.74 378.33 135.98 379.67 136.47 374" stroke="#f46a6a" stroke-width="1.9" fill="none" stroke-linejoin="round" stroke-linecap="round"/>
<path d="M112.4 540 C113.93 526.67 113.13 527.33 117 500 C120.87 472.67 120 480.67 124 458 C128 435.33 126 448 129 432 C132 416 130.67 424 133 410 C135.33 396 134.83 402 136 390 C137.17 378 136.33 379.33 136.5 374" stroke="#f46a6a" stroke-width="1.9" fill="none" stroke-linejoin="round" stroke-linecap="round"/>
<path d="M136 540 C136.33 520 136 520 137 480 C138 440 137.87 446.67 139 420 C140.13 393.33 139.53 410 140.4 400 C141.27 390 140.4 401.33 141.6 390 C142.8 378.67 141.87 378.67 144 366 C146.13 353.33 145 358.33 148 352 C151 345.67 149.67 349.2 153 347 C156.33 344.8 154.33 345.73 158 345.4 C161.67 345.07 159.33 345.13 164 346 C168.67 346.87 166.67 347.13 172 348 C177.33 348.87 174.67 348.93 180 348.6 C185.33 348.27 183.33 348.2 188 347 C192.67 345.8 190.53 346.2 194 345 C197.47 343.8 196.93 343.93 198.4 343.4" stroke="#c4000c" stroke-width="1.5" fill="none" stroke-linejoin="round" stroke-linecap="round"/>
<path d="M198.4 343.4 L199.2 345 L199.4 372" stroke="#c4000c" stroke-width="1.5" fill="none" stroke-linejoin="round" stroke-linecap="round"/>
<path d="M144.4 540 C144.93 533.33 144.13 533.33 146 520 C147.87 506.67 147 513.33 150 500 C153 486.67 150.33 493.33 155 480 C159.67 466.67 158 470.67 164 460 C170 449.33 167 458.67 173 448 C179 437.33 176.33 442 182 428 C187.67 414 185.33 420 190 406 C194.67 392 192.87 397.67 196 386 C199.13 374.33 198.27 376 199.4 371" stroke="#c4000c" stroke-width="1.8" fill="none" stroke-linejoin="round" stroke-linecap="round"/>
<path d="M146.08 540 C146.85 533.33 146.09 533.33 148.4 520 C150.71 506.67 149.5 513.33 153 500 C156.5 486.67 154.03 493.33 158.9 480 C163.77 466.67 161.8 471.47 167.6 460 C173.4 448.53 170.45 457.07 176.3 445.6 C182.15 434.13 179.83 439.7 185.15 425.6 C190.47 411.5 188.29 417.3 192.25 403.3 C196.21 389.3 194.63 394.37 197.02 383.6 C199.41 372.83 198.63 375.2 199.43 371" stroke="#c4000c" stroke-width="1.8" fill="none" stroke-linejoin="round" stroke-linecap="round"/>
<path d="M147.2 540 C148.13 533.33 147.4 533.33 150 520 C152.6 506.67 151.17 513.33 155 500 C158.83 486.67 156.5 493.33 161.5 480 C166.5 466.67 164.33 472 170 460 C175.67 448 172.75 456 178.5 444 C184.25 432 182.17 438.17 187.25 424 C192.33 409.83 190.27 415.5 193.75 401.5 C197.23 387.5 195.8 392.17 197.7 382 C199.6 371.83 198.87 374.67 199.45 371" stroke="#c4000c" stroke-width="1.8" fill="none" stroke-linejoin="round" stroke-linecap="round"/>
<path d="M148.1 540 C149.16 533.33 148.45 533.33 151.28 520 C154.11 506.67 152.5 513.33 156.6 500 C160.7 486.67 158.47 493.33 163.58 480 C168.69 466.67 166.36 472.43 171.92 460 C177.48 447.57 174.59 455.15 180.26 442.72 C185.93 430.29 184.03 436.94 188.93 422.72 C193.83 408.5 191.85 414.06 194.95 400.06 C198.05 386.06 196.74 390.41 198.24 380.72 C199.75 371.03 199.06 374.24 199.47 371" stroke="#c4000c" stroke-width="1.8" fill="none" stroke-linejoin="round" stroke-linecap="round"/>
<path d="M148.88 540 C150.05 533.33 149.36 533.33 152.4 520 C155.44 506.67 153.67 513.33 158 500 C162.33 486.67 160.2 493.33 165.4 480 C170.6 466.67 168.13 472.8 173.6 460 C179.07 447.2 176.2 454.4 181.8 441.6 C187.4 428.8 185.67 435.87 190.4 421.6 C195.13 407.33 193.23 412.8 196 398.8 C198.77 384.8 197.56 388.87 198.72 379.6 C199.88 370.33 199.23 373.87 199.48 371" stroke="#c4000c" stroke-width="1.8" fill="none" stroke-linejoin="round" stroke-linecap="round"/>
<path d="M149.5 540 C150.76 533.33 150.08 533.33 153.28 520 C156.48 506.67 154.58 513.33 159.1 500 C163.62 486.67 161.56 493.33 166.83 480 C172.1 466.67 169.53 473.09 174.92 460 C180.31 446.91 177.46 453.81 183.01 440.72 C188.56 427.63 186.95 435.02 191.56 420.72 C196.16 406.42 194.31 411.81 196.82 397.81 C199.34 383.81 198.21 387.66 199.09 378.72 C199.98 369.78 199.36 373.57 199.49 371" stroke="#c4000c" stroke-width="1.8" fill="none" stroke-linejoin="round" stroke-linecap="round"/>
<path d="M150 540 C151.33 533.33 150.67 533.33 154 520 C157.33 506.67 155.33 513.33 160 500 C164.67 486.67 162.67 493.33 168 480 C173.33 466.67 170.67 473.33 176 460 C181.33 446.67 178.5 453.33 184 440 C189.5 426.67 188 434.33 192.5 420 C197 405.67 195.2 411 197.5 397 C199.8 383 198.73 386.67 199.4 378 C200.07 369.33 199.47 373.33 199.5 371" stroke="#c4000c" stroke-width="1.8" fill="none" stroke-linejoin="round" stroke-linecap="round"/>
<path d="M198.4 540 C198.93 533.33 198.8 546.67 200 520 C201.2 493.33 201 500 202 460 C203 420 202 428.33 203 400 C204 371.67 203.33 389 205 375 C206.67 361 206 367.33 208 358 C210 348.67 209.33 353.33 211 347 C212.67 340.67 211.33 343.33 213 339 C214.67 334.67 213.67 336.47 216 334 C218.33 331.53 217.33 332.6 220 331.6 C222.67 330.6 220.67 330.53 224 331 C227.33 331.47 225.33 331.33 230 333 C234.67 334.67 232.67 334.33 238 336 C243.33 337.67 240.67 337.13 246 338 C251.33 338.87 248.67 338.73 254 338.6 C259.33 338.47 256.67 338.6 262 337.6 C267.33 336.6 264 337.47 270 335.6 C276 333.73 273.33 334.53 280 332 C286.67 329.47 283.33 330.8 290 328 C296.67 325.2 293.33 326.6 300 323.6 C306.67 320.6 304 321.87 310 319 C316 316.13 313.2 317.47 318 315 C322.8 312.53 322.27 312.73 324.4 311.6" stroke="#ff0000" stroke-width="1.5" fill="none" stroke-linejoin="round" stroke-linecap="round"/>
<path d="M324.4 311.6 C324.6 314.4 324.87 310.53 325 320 C325.13 329.47 325 327.33 324.8 340 C324.6 352.67 324.53 352 324.4 358" stroke="#ff0000" stroke-width="1.5" fill="none" stroke-linejoin="round" stroke-linecap="round"/>
<path d="M215 537 C216.33 534 216 535.67 219 528 C222 520.33 220.33 523.33 224 514 C227.67 504.67 225.33 509.33 230 500 C234.67 490.67 232 494.67 238 486 C244 477.33 240.67 481.33 248 474 C255.33 466.67 251.33 470.67 260 464 C268.67 457.33 265.33 462 274 454 C282.67 446 278.67 449.33 286 440 C293.33 430.67 290 435.33 296 426 C302 416.67 298.67 420.67 304 412 C309.33 403.33 307 409.33 312 400 C317 390.67 315.67 394 319 384 C322.33 374 320.2 378.67 322 370 C323.8 361.33 323.6 362 324.4 358" stroke="#ff0000" stroke-width="1.8" fill="none" stroke-linejoin="round" stroke-linecap="round"/>
<path d="M218.96 537.2 C220.4 534.35 219.85 535.73 223.29 528.66 C226.73 521.59 224.84 524.43 229.28 515.98 C233.72 507.53 231.27 511.53 236.6 503.3 C241.93 495.07 239.04 498.85 245.26 491.28 C251.48 483.71 248.15 487.49 255.26 480.6 C262.37 473.71 258.59 477.27 266.6 470.6 C274.61 463.93 271.27 468.38 279.28 460.6 C287.29 452.82 283.73 456.37 290.62 447.26 C297.51 438.15 294.4 442.81 299.96 433.26 C305.52 423.71 302.63 427.93 307.3 418.6 C311.97 409.27 309.81 415.27 313.98 405.28 C318.16 395.29 316.88 399.5 319.82 388.62 C322.77 377.74 321.29 382.41 322.82 372.64 C324.36 362.87 323.9 363.76 324.43 359.32" stroke="#ff0000" stroke-width="1.8" fill="none" stroke-linejoin="round" stroke-linecap="round"/>
<path d="M221.24 537.31 C222.75 534.55 222.07 535.77 225.76 529.04 C229.45 522.31 227.44 525.07 232.32 517.12 C237.2 509.17 234.69 512.8 240.4 505.2 C246.11 497.6 243.09 501.25 249.44 494.32 C255.79 487.39 252.45 491.04 259.44 484.4 C266.43 477.76 262.77 481.07 270.4 474.4 C278.03 467.73 274.69 472.05 282.32 464.4 C289.95 456.75 286.64 460.43 293.28 451.44 C299.92 442.45 296.93 447.12 302.24 437.44 C307.55 427.76 304.91 432.11 309.2 422.4 C313.49 412.69 311.42 418.69 315.12 408.32 C318.82 397.95 317.57 402.67 320.3 391.28 C323.03 379.89 321.92 384.56 323.3 374.16 C324.68 363.76 324.07 364.77 324.45 360.08" stroke="#ff0000" stroke-width="1.8" fill="none" stroke-linejoin="round" stroke-linecap="round"/>
<path d="M223.16 537.41 C224.72 534.73 223.93 535.8 227.84 529.36 C231.75 522.92 229.63 525.6 234.88 518.08 C240.13 510.56 237.57 513.87 243.6 506.8 C249.63 499.73 246.51 503.28 252.96 496.88 C259.41 490.48 256.08 494.03 262.96 487.6 C269.84 481.17 266.29 484.27 273.6 477.6 C280.91 470.93 277.57 475.15 284.88 467.6 C292.19 460.05 289.09 463.84 295.52 454.96 C301.95 446.08 299.07 450.75 304.16 440.96 C309.25 431.17 306.83 435.63 310.8 425.6 C314.77 415.57 312.78 421.57 316.08 410.88 C319.38 400.19 318.16 405.33 320.7 393.52 C323.24 381.71 322.44 386.37 323.7 375.44 C324.96 364.51 324.21 365.63 324.47 360.72" stroke="#ff0000" stroke-width="1.8" fill="none" stroke-linejoin="round" stroke-linecap="round"/>
<path d="M224.84 537.49 C226.45 534.87 225.57 535.83 229.66 529.64 C233.75 523.45 231.54 526.07 237.12 518.92 C242.7 511.77 240.09 514.8 246.4 508.2 C252.71 501.6 249.49 505.05 256.04 499.12 C262.59 493.19 259.25 496.64 266.04 490.4 C272.83 484.16 269.37 487.07 276.4 480.4 C283.43 473.73 280.09 477.85 287.12 470.4 C294.15 462.95 291.24 466.83 297.48 458.04 C303.72 449.25 300.93 453.92 305.84 444.04 C310.75 434.16 308.51 438.71 312.2 428.4 C315.89 418.09 313.97 424.09 316.92 413.12 C319.87 402.15 318.67 407.67 321.05 395.48 C323.43 383.29 322.91 387.96 324.05 376.56 C325.19 365.16 324.34 366.37 324.48 361.28" stroke="#ff0000" stroke-width="1.8" fill="none" stroke-linejoin="round" stroke-linecap="round"/>
<path d="M226.04 537.55 C227.68 534.98 226.73 535.85 230.96 529.84 C235.19 523.83 232.91 526.4 238.72 519.52 C244.53 512.64 241.89 515.47 248.4 509.2 C254.91 502.93 251.63 506.32 258.24 500.72 C264.85 495.12 261.52 498.51 268.24 492.4 C274.96 486.29 271.57 489.07 278.4 482.4 C285.23 475.73 281.89 479.79 288.72 472.4 C295.55 465.01 292.77 468.96 298.88 460.24 C304.99 451.52 302.27 456.19 307.04 446.24 C311.81 436.29 309.71 440.91 313.2 430.4 C316.69 419.89 314.82 425.89 317.52 414.72 C320.22 403.55 319.04 409.33 321.3 396.88 C323.56 384.43 323.24 389.09 324.3 377.36 C325.36 365.63 324.43 366.91 324.49 361.68" stroke="#ff0000" stroke-width="1.8" fill="none" stroke-linejoin="round" stroke-linecap="round"/>
<path d="M227 537.6 C228.67 535.07 227.67 535.87 232 530 C236.33 524.13 234 526.67 240 520 C246 513.33 243.33 516 250 510 C256.67 504 253.33 507.33 260 502 C266.67 496.67 263.33 500 270 494 C276.67 488 273.33 490.67 280 484 C286.67 477.33 283.33 481.33 290 474 C296.67 466.67 294 470.67 300 462 C306 453.33 303.33 458 308 448 C312.67 438 310.67 442.67 314 432 C317.33 421.33 315.5 427.33 318 416 C320.5 404.67 319.33 410.67 321.5 398 C323.67 385.33 323.5 390 324.5 378 C325.5 366 324.5 367.33 324.5 362" stroke="#ff0000" stroke-width="1.8" fill="none" stroke-linejoin="round" stroke-linecap="round"/>
<text class="sa" x="91.2" y="368" font-size="19.2" text-anchor="middle" fill="#ff7ac6" stroke="#ff7ac6" stroke-width="0.3">20%</text>
<text class="sa" x="124.5" y="347" font-size="19.2" text-anchor="middle" fill="#f46a6a" stroke="#f46a6a" stroke-width="0.3">50%</text>
<text class="sa" x="177" y="338.4" font-size="19.2" text-anchor="middle" fill="#8c0a14" stroke="#8c0a14" stroke-width="0.3">100%</text>
<text class="sa" x="262.2" y="326" font-size="19.2" text-anchor="middle" fill="#ff0000" stroke="#ff0000" stroke-width="0.3">200%</text>
<rect x="67" y="307.6" width="288.8" height="232.4" fill="none" stroke="#000" stroke-width="1.6"/>
<line x1="62.6" y1="540" x2="67" y2="540" stroke="#000" stroke-width="1.5"/>
<text class="se" x="58.3" y="546" font-size="19.7" text-anchor="end">0</text>
<line x1="62.6" y1="485.2" x2="67" y2="485.2" stroke="#000" stroke-width="1.5"/>
<text class="se" x="58.3" y="491.2" font-size="19.7" text-anchor="end">2</text>
<line x1="62.6" y1="430.4" x2="67" y2="430.4" stroke="#000" stroke-width="1.5"/>
<text class="se" x="58.3" y="436.4" font-size="19.7" text-anchor="end">4</text>
<line x1="62.6" y1="375.6" x2="67" y2="375.6" stroke="#000" stroke-width="1.5"/>
<text class="se" x="58.3" y="381.6" font-size="19.7" text-anchor="end">6</text>
<line x1="62.6" y1="320.8" x2="67" y2="320.8" stroke="#000" stroke-width="1.5"/>
<text class="se" x="58.3" y="326.8" font-size="19.7" text-anchor="end">8</text>
<line x1="64.5" y1="512.6" x2="67" y2="512.6" stroke="#000" stroke-width="1.5"/>
<line x1="64.5" y1="457.8" x2="67" y2="457.8" stroke="#000" stroke-width="1.5"/>
<line x1="64.5" y1="403" x2="67" y2="403" stroke="#000" stroke-width="1.5"/>
<line x1="64.5" y1="348.2" x2="67" y2="348.2" stroke="#000" stroke-width="1.5"/>
<line x1="92.2" y1="540" x2="92.2" y2="544.4" stroke="#000" stroke-width="1.5"/>
<text class="sa" x="92.2" y="563.9" font-size="18.9" text-anchor="middle" stroke="#000" stroke-width="0.3">0</text>
<line x1="155" y1="540" x2="155" y2="544.4" stroke="#000" stroke-width="1.5"/>
<text class="sa" x="155" y="563.9" font-size="18.9" text-anchor="middle" stroke="#000" stroke-width="0.3">100</text>
<line x1="217.8" y1="540" x2="217.8" y2="544.4" stroke="#000" stroke-width="1.5"/>
<text class="sa" x="217.8" y="563.9" font-size="18.9" text-anchor="middle" stroke="#000" stroke-width="0.3">200</text>
<line x1="280.6" y1="540" x2="280.6" y2="544.4" stroke="#000" stroke-width="1.5"/>
<text class="sa" x="280.6" y="563.9" font-size="18.9" text-anchor="middle" stroke="#000" stroke-width="0.3">300</text>
<line x1="343.4" y1="540" x2="343.4" y2="544.4" stroke="#000" stroke-width="1.5"/>
<text class="sa" x="343.4" y="563.9" font-size="18.9" text-anchor="middle" stroke="#000" stroke-width="0.3">400</text>
<line x1="123.6" y1="540" x2="123.6" y2="542.5" stroke="#000" stroke-width="1.5"/>
<line x1="186.4" y1="540" x2="186.4" y2="542.5" stroke="#000" stroke-width="1.5"/>
<line x1="249.2" y1="540" x2="249.2" y2="542.5" stroke="#000" stroke-width="1.5"/>
<line x1="312" y1="540" x2="312" y2="542.5" stroke="#000" stroke-width="1.5"/>
<text class="sa" x="25.5" y="321" font-size="22.3" text-anchor="middle" stroke="#000" stroke-width="0.3">C</text>
<text class="sa" x="38.3" y="425" font-size="19.8" text-anchor="middle" stroke="#000" stroke-width="0.3" transform="rotate(-90 38.3 425)">Stress (Mpa)</text>
<text class="sa" x="211.2" y="590" font-size="20.5" text-anchor="middle" stroke="#000" stroke-width="0.3">Strain (%)</text>
<path d="M446.8 421.8 V307.6 H736.2 V421.8 M446.8 424.2 V539.4 H736.2 V424.2" fill="none" stroke="#000" stroke-width="1.5"/>
<line x1="444.6" y1="422.7" x2="449" y2="420.3" stroke="#000" stroke-width="1.1"/>
<line x1="444.6" y1="425.9" x2="449" y2="423.5" stroke="#000" stroke-width="1.1"/>
<line x1="734" y1="422.7" x2="738.4" y2="420.3" stroke="#000" stroke-width="1.1"/>
<line x1="734" y1="425.9" x2="738.4" y2="423.5" stroke="#000" stroke-width="1.1"/>
<line x1="442.6" y1="326.3" x2="446.8" y2="326.3" stroke="#000" stroke-width="1.3"/>
<text class="sa" x="438.3" y="332.3" font-size="18.9" text-anchor="end" stroke="#000" stroke-width="0.3">1.0</text>
<line x1="442.6" y1="364.1" x2="446.8" y2="364.1" stroke="#000" stroke-width="1.3"/>
<text class="sa" x="438.3" y="370.1" font-size="18.9" text-anchor="end" stroke="#000" stroke-width="0.3">0.9</text>
<line x1="442.6" y1="401.9" x2="446.8" y2="401.9" stroke="#000" stroke-width="1.3"/>
<text class="sa" x="438.3" y="407.9" font-size="18.9" text-anchor="end" stroke="#000" stroke-width="0.3">0.8</text>
<line x1="444.5" y1="345.2" x2="446.8" y2="345.2" stroke="#000" stroke-width="1.3"/>
<line x1="444.5" y1="383" x2="446.8" y2="383" stroke="#000" stroke-width="1.3"/>
<line x1="442.6" y1="444.5" x2="446.8" y2="444.5" stroke="#000" stroke-width="1.3"/>
<text class="sa" x="438.3" y="450.5" font-size="18.9" text-anchor="end" stroke="#000" stroke-width="0.3">0.2</text>
<line x1="442.6" y1="482.5" x2="446.8" y2="482.5" stroke="#000" stroke-width="1.3"/>
<text class="sa" x="438.3" y="488.5" font-size="18.9" text-anchor="end" stroke="#000" stroke-width="0.3">0.1</text>
<line x1="442.6" y1="520.5" x2="446.8" y2="520.5" stroke="#000" stroke-width="1.3"/>
<text class="sa" x="438.3" y="526.5" font-size="18.9" text-anchor="end" stroke="#000" stroke-width="0.3">0.0</text>
<line x1="444.5" y1="463.5" x2="446.8" y2="463.5" stroke="#000" stroke-width="1.3"/>
<line x1="444.5" y1="501.5" x2="446.8" y2="501.5" stroke="#000" stroke-width="1.3"/>
<line x1="458" y1="539.4" x2="458" y2="543.6" stroke="#000" stroke-width="1.3"/>
<text class="sa" x="458" y="563.3" font-size="18.9" text-anchor="middle" stroke="#000" stroke-width="0.3">0</text>
<line x1="543.7" y1="539.4" x2="543.7" y2="543.6" stroke="#000" stroke-width="1.3"/>
<text class="sa" x="543.7" y="563.3" font-size="18.9" text-anchor="middle" stroke="#000" stroke-width="0.3">4000</text>
<line x1="629.4" y1="539.4" x2="629.4" y2="543.6" stroke="#000" stroke-width="1.3"/>
<text class="sa" x="629.4" y="563.3" font-size="18.9" text-anchor="middle" stroke="#000" stroke-width="0.3">8000</text>
<line x1="715.1" y1="539.4" x2="715.1" y2="543.6" stroke="#000" stroke-width="1.3"/>
<text class="sa" x="715.1" y="563.3" font-size="18.9" text-anchor="middle" stroke="#000" stroke-width="0.3">12000</text>
<line x1="500.85" y1="539.4" x2="500.85" y2="541.7" stroke="#000" stroke-width="1.3"/>
<line x1="586.55" y1="539.4" x2="586.55" y2="541.7" stroke="#000" stroke-width="1.3"/>
<line x1="672.25" y1="539.4" x2="672.25" y2="541.7" stroke="#000" stroke-width="1.3"/>
<text class="sa" x="399" y="321" font-size="22.3" text-anchor="middle" stroke="#000" stroke-width="0.3">D</text>
<text class="sa" x="399.8" y="424.3" font-size="19.4" text-anchor="middle" stroke="#000" stroke-width="0.3" transform="rotate(-90 399.8 424.3)">Normalized recovery</text>
<text class="sa" x="591.6" y="586.8" font-size="19.7" text-anchor="middle" stroke="#000" stroke-width="0.3">Cycles</text>
<line x1="460.35" y1="331.27" x2="466.36" y2="344.01" stroke="#86242b" stroke-width="1.1" stroke-dasharray="3.6 3.2"/>
<line x1="484.91" y1="349.92" x2="495.36" y2="349.18" stroke="#86242b" stroke-width="1.1" stroke-dasharray="3.6 3.2"/>
<line x1="506.31" y1="349.42" x2="516.81" y2="350.62" stroke="#86242b" stroke-width="1.1" stroke-dasharray="3.6 3.2"/>
<line x1="527.73" y1="350.53" x2="538.25" y2="349.13" stroke="#86242b" stroke-width="1.1" stroke-dasharray="3.6 3.2"/>
<line x1="549.17" y1="348.94" x2="559.65" y2="349.96" stroke="#86242b" stroke-width="1.1" stroke-dasharray="3.6 3.2"/>
<line x1="570.59" y1="349.91" x2="581.08" y2="348.8" stroke="#86242b" stroke-width="1.1" stroke-dasharray="3.6 3.2"/>
<line x1="592.02" y1="348.8" x2="602.51" y2="349.91" stroke="#86242b" stroke-width="1.1" stroke-dasharray="3.6 3.2"/>
<line x1="613.47" y1="350.69" x2="623.9" y2="351.05" stroke="#86242b" stroke-width="1.1" stroke-dasharray="3.6 3.2"/>
<line x1="634.85" y1="350.48" x2="645.38" y2="348.99" stroke="#86242b" stroke-width="1.1" stroke-dasharray="3.6 3.2"/>
<line x1="656.3" y1="348.71" x2="666.77" y2="349.63" stroke="#86242b" stroke-width="1.1" stroke-dasharray="3.6 3.2"/>
<line x1="677.73" y1="349.63" x2="688.2" y2="348.71" stroke="#86242b" stroke-width="1.1" stroke-dasharray="3.6 3.2"/>
<line x1="699.17" y1="348.51" x2="709.61" y2="349.07" stroke="#86242b" stroke-width="1.1" stroke-dasharray="3.6 3.2"/>
<line x1="459.81" y1="331.49" x2="466.91" y2="351.91" stroke="#ff2a35" stroke-width="1.1" stroke-dasharray="3.6 3.2"/>
<line x1="471.45" y1="361.88" x2="476.69" y2="371.04" stroke="#ff2a35" stroke-width="1.1" stroke-dasharray="3.6 3.2"/>
<line x1="484.92" y1="376.11" x2="495.36" y2="376.66" stroke="#ff2a35" stroke-width="1.1" stroke-dasharray="3.6 3.2"/>
<line x1="506.34" y1="376.66" x2="516.78" y2="376.11" stroke="#ff2a35" stroke-width="1.1" stroke-dasharray="3.6 3.2"/>
<line x1="527.77" y1="375.92" x2="538.2" y2="376.1" stroke="#ff2a35" stroke-width="1.1" stroke-dasharray="3.6 3.2"/>
<line x1="549.2" y1="376.29" x2="559.63" y2="376.48" stroke="#ff2a35" stroke-width="1.1" stroke-dasharray="3.6 3.2"/>
<line x1="570.62" y1="376.28" x2="581.06" y2="375.73" stroke="#ff2a35" stroke-width="1.1" stroke-dasharray="3.6 3.2"/>
<line x1="592.04" y1="375.73" x2="602.48" y2="376.28" stroke="#ff2a35" stroke-width="1.1" stroke-dasharray="3.6 3.2"/>
<line x1="613.47" y1="376.38" x2="623.9" y2="376.01" stroke="#ff2a35" stroke-width="1.1" stroke-dasharray="3.6 3.2"/>
<line x1="634.87" y1="376.4" x2="645.36" y2="377.51" stroke="#ff2a35" stroke-width="1.1" stroke-dasharray="3.6 3.2"/>
<line x1="656.31" y1="377.7" x2="666.76" y2="376.96" stroke="#ff2a35" stroke-width="1.1" stroke-dasharray="3.6 3.2"/>
<line x1="677.74" y1="376.28" x2="688.18" y2="375.73" stroke="#ff2a35" stroke-width="1.1" stroke-dasharray="3.6 3.2"/>
<line x1="699.17" y1="375.73" x2="709.61" y2="376.28" stroke="#ff2a35" stroke-width="1.1" stroke-dasharray="3.6 3.2"/>
<rect x="455.3" y="323.6" width="5.4" height="5.4" fill="#fff" stroke="#86242b" stroke-width="1.2"/>
<rect x="466.01" y="346.28" width="5.4" height="5.4" fill="#fff" stroke="#86242b" stroke-width="1.2"/>
<rect x="476.73" y="347.6" width="5.4" height="5.4" fill="#fff" stroke="#86242b" stroke-width="1.2"/>
<rect x="498.15" y="346.09" width="5.4" height="5.4" fill="#fff" stroke="#86242b" stroke-width="1.2"/>
<rect x="519.57" y="348.55" width="5.4" height="5.4" fill="#fff" stroke="#86242b" stroke-width="1.2"/>
<rect x="541" y="345.71" width="5.4" height="5.4" fill="#fff" stroke="#86242b" stroke-width="1.2"/>
<rect x="562.42" y="347.79" width="5.4" height="5.4" fill="#fff" stroke="#86242b" stroke-width="1.2"/>
<rect x="583.85" y="345.52" width="5.4" height="5.4" fill="#fff" stroke="#86242b" stroke-width="1.2"/>
<rect x="605.27" y="347.79" width="5.4" height="5.4" fill="#fff" stroke="#86242b" stroke-width="1.2"/>
<rect x="626.7" y="348.55" width="5.4" height="5.4" fill="#fff" stroke="#86242b" stroke-width="1.2"/>
<rect x="648.12" y="345.52" width="5.4" height="5.4" fill="#fff" stroke="#86242b" stroke-width="1.2"/>
<rect x="669.55" y="347.41" width="5.4" height="5.4" fill="#fff" stroke="#86242b" stroke-width="1.2"/>
<rect x="690.97" y="345.52" width="5.4" height="5.4" fill="#fff" stroke="#86242b" stroke-width="1.2"/>
<rect x="712.4" y="346.66" width="5.4" height="5.4" fill="#fff" stroke="#86242b" stroke-width="1.2"/>
<circle cx="458" cy="326.3" r="3.15" fill="#fff" stroke="#ff2a35" stroke-width="1.2"/>
<circle cx="468.71" cy="357.11" r="3.15" fill="#fff" stroke="#ff2a35" stroke-width="1.2"/>
<circle cx="479.43" cy="375.82" r="3.15" fill="#fff" stroke="#ff2a35" stroke-width="1.2"/>
<circle cx="500.85" cy="376.95" r="3.15" fill="#fff" stroke="#ff2a35" stroke-width="1.2"/>
<circle cx="522.27" cy="375.82" r="3.15" fill="#fff" stroke="#ff2a35" stroke-width="1.2"/>
<circle cx="543.7" cy="376.2" r="3.15" fill="#fff" stroke="#ff2a35" stroke-width="1.2"/>
<circle cx="565.12" cy="376.57" r="3.15" fill="#fff" stroke="#ff2a35" stroke-width="1.2"/>
<circle cx="586.55" cy="375.44" r="3.15" fill="#fff" stroke="#ff2a35" stroke-width="1.2"/>
<circle cx="607.98" cy="376.57" r="3.15" fill="#fff" stroke="#ff2a35" stroke-width="1.2"/>
<circle cx="629.4" cy="375.82" r="3.15" fill="#fff" stroke="#ff2a35" stroke-width="1.2"/>
<circle cx="650.83" cy="378.09" r="3.15" fill="#fff" stroke="#ff2a35" stroke-width="1.2"/>
<circle cx="672.25" cy="376.57" r="3.15" fill="#fff" stroke="#ff2a35" stroke-width="1.2"/>
<circle cx="693.67" cy="375.44" r="3.15" fill="#fff" stroke="#ff2a35" stroke-width="1.2"/>
<circle cx="715.1" cy="376.57" r="3.15" fill="#fff" stroke="#ff2a35" stroke-width="1.2"/>
<line x1="551.7" y1="438.4" x2="578.4" y2="438.4" stroke="#86242b" stroke-width="1.1" stroke-dasharray="3.6 3.2"/>
<rect x="562.5" y="435.7" width="5.4" height="5.4" fill="#fff" stroke="#86242b" stroke-width="1.2"/>
<text class="se" x="687.4" y="443.2" font-size="18.4" text-anchor="end">50% Strain</text>
<line x1="551.7" y1="467.2" x2="578.4" y2="467.2" stroke="#ff2a35" stroke-width="1.1" stroke-dasharray="3.6 3.2"/>
<circle cx="565.2" cy="467.2" r="3.15" fill="#fff" stroke="#ff2a35" stroke-width="1.2"/>
<text class="se" x="687.4" y="472" font-size="18.4" text-anchor="end">100% Strain</text>
<defs><filter id="nz" x="0" y="0" width="1" height="1"><feTurbulence type="fractalNoise" baseFrequency="0.85" numOctaves="2" seed="7" result="n"/><feColorMatrix in="n" type="matrix" values="0 0 0 0 0.02 0 0 0 0 0.16 0 0 0 0 0.24 0 0 0 0.45 -0.17" result="m"/><feComposite in="m" in2="SourceGraphic" operator="in"/></filter></defs>
<defs>
<radialGradient id="g1" gradientUnits="userSpaceOnUse" cx="106.6" cy="759" r="28" gradientTransform="translate(106.6 759) scale(1 1) translate(-106.6 -759)">
<stop offset="0" stop-color="#3df23c"/><stop offset="0.08" stop-color="#3df23c"/><stop offset="0.18" stop-color="#3ad85c"/><stop offset="0.3" stop-color="#3df23c"/><stop offset="0.44" stop-color="#3df23c"/><stop offset="0.7" stop-color="#27a676"/><stop offset="0.98" stop-color="#1a6475"/>
</radialGradient>
<radialGradient id="v1" gradientUnits="userSpaceOnUse" cx="106.7" cy="759" r="38.53" gradientTransform="translate(106.7 759) scale(1 1.42) translate(-106.7 -759)">
<stop offset="0.55" stop-color="#0d3f58" stop-opacity="0"/><stop offset="1" stop-color="#0d3f58" stop-opacity="0.85"/>
</radialGradient>
<radialGradient id="s1" cx="0.5" cy="0.5" r="0.5"><stop offset="0" stop-color="#2a7fa0" stop-opacity="1"/><stop offset="1" stop-color="#2a7fa0" stop-opacity="0"/></radialGradient>
</defs>
<rect x="82" y="724" width="49.4" height="70" fill="url(#g1)"/>
<rect x="82" y="724" width="49.4" height="70" fill="url(#v1)"/>
<rect x="82.4" y="724.4" width="48.6" height="69.2" fill="none" stroke="#0d3f58" stroke-opacity="0.7" stroke-width="0.8"/>
<rect x="82" y="724" width="49.4" height="70" fill="#06283c" filter="url(#nz)"/>
<circle cx="106.6" cy="759" r="2.5" fill="#ff1111"/>
<defs>
<radialGradient id="g2" gradientUnits="userSpaceOnUse" cx="122.2" cy="655.8" r="25.38" gradientTransform="translate(122.2 655.8) scale(1 1.41) translate(-122.2 -655.8)">
<stop offset="0" stop-color="#3df23c"/><stop offset="0.08" stop-color="#3df23c"/><stop offset="0.18" stop-color="#3ad85c"/><stop offset="0.3" stop-color="#3df23c"/><stop offset="0.44" stop-color="#3df23c"/><stop offset="0.7" stop-color="#27a676"/><stop offset="0.98" stop-color="#1a6475"/>
</radialGradient>
<radialGradient id="v2" gradientUnits="userSpaceOnUse" cx="122.2" cy="655.5" r="40.25" gradientTransform="translate(122.2 655.5) scale(1 1.41) translate(-122.2 -655.5)">
<stop offset="0.55" stop-color="#0d3f58" stop-opacity="0"/><stop offset="1" stop-color="#0d3f58" stop-opacity="0.85"/>
</radialGradient>
<radialGradient id="s2" cx="0.5" cy="0.5" r="0.5"><stop offset="0" stop-color="#2a7fa0" stop-opacity="1"/><stop offset="1" stop-color="#2a7fa0" stop-opacity="0"/></radialGradient>
</defs>
<rect x="96.4" y="619" width="51.6" height="73" fill="url(#g2)"/>
<rect x="96.4" y="619" width="51.6" height="73" fill="url(#v2)"/>
<rect x="96.8" y="619.4" width="50.8" height="72.2" fill="none" stroke="#0d3f58" stroke-opacity="0.7" stroke-width="0.8"/>
<rect x="96.4" y="619" width="51.6" height="73" fill="#06283c" filter="url(#nz)"/>
<ellipse cx="122.2" cy="646.8" rx="4.2" ry="4.6" fill="url(#s2)" opacity="0.45"/>
<ellipse cx="122.2" cy="664.8" rx="4.2" ry="4.6" fill="url(#s2)" opacity="0.45"/>
<circle cx="122.2" cy="655.8" r="2.5" fill="#ff1111"/>
<defs>
<radialGradient id="g3" gradientUnits="userSpaceOnUse" cx="202.6" cy="656.8" r="20.12" gradientTransform="translate(202.6 656.8) scale(1 1.91) translate(-202.6 -656.8)">
<stop offset="0" stop-color="#38e04c"/><stop offset="0.08" stop-color="#38e04c"/><stop offset="0.18" stop-color="#3ad85c"/><stop offset="0.3" stop-color="#38e04c"/><stop offset="0.44" stop-color="#38e04c"/><stop offset="0.7" stop-color="#2aa58c"/><stop offset="0.98" stop-color="#1d6590"/>
</radialGradient>
<radialGradient id="v3" gradientUnits="userSpaceOnUse" cx="202" cy="656.65" r="40.56" gradientTransform="translate(202 656.65) scale(1 1.45) translate(-202 -656.65)">
<stop offset="0.55" stop-color="#103a68" stop-opacity="0"/><stop offset="1" stop-color="#103a68" stop-opacity="0.85"/>
</radialGradient>
<radialGradient id="s3" cx="0.5" cy="0.5" r="0.5"><stop offset="0" stop-color="#2a7fa0" stop-opacity="1"/><stop offset="1" stop-color="#2a7fa0" stop-opacity="0"/></radialGradient>
</defs>
<rect x="176" y="619" width="52" height="75.3" fill="url(#g3)"/>
<rect x="176" y="619" width="52" height="75.3" fill="url(#v3)"/>
<rect x="176.4" y="619.4" width="51.2" height="74.5" fill="none" stroke="#103a68" stroke-opacity="0.7" stroke-width="0.8"/>
<rect x="176" y="619" width="52" height="75.3" fill="#06283c" filter="url(#nz)"/>
<ellipse cx="202.6" cy="645.8" rx="3" ry="9" fill="url(#s3)" opacity="0.8"/>
<ellipse cx="202.6" cy="667.8" rx="3" ry="9" fill="url(#s3)" opacity="0.8"/>
<circle cx="202.6" cy="656.8" r="2.5" fill="#ff1111"/>
<defs>
<radialGradient id="g4" gradientUnits="userSpaceOnUse" cx="264.5" cy="656.8" r="21.88" gradientTransform="translate(264.5 656.8) scale(1 2.08) translate(-264.5 -656.8)">
<stop offset="0" stop-color="#3adc52"/><stop offset="0.08" stop-color="#3adc52"/><stop offset="0.18" stop-color="#3ad85c"/><stop offset="0.3" stop-color="#3adc52"/><stop offset="0.44" stop-color="#3adc52"/><stop offset="0.7" stop-color="#2aa67c"/><stop offset="0.98" stop-color="#1a6475"/>
</radialGradient>
<radialGradient id="v4" gradientUnits="userSpaceOnUse" cx="264" cy="656.65" r="40.56" gradientTransform="translate(264 656.65) scale(1 1.45) translate(-264 -656.65)">
<stop offset="0.55" stop-color="#0d3f58" stop-opacity="0"/><stop offset="1" stop-color="#0d3f58" stop-opacity="0.85"/>
</radialGradient>
<radialGradient id="s4" cx="0.5" cy="0.5" r="0.5"><stop offset="0" stop-color="#2a7fa0" stop-opacity="1"/><stop offset="1" stop-color="#2a7fa0" stop-opacity="0"/></radialGradient>
</defs>
<rect x="238" y="619" width="52" height="75.3" fill="url(#g4)"/>
<rect x="238" y="619" width="52" height="75.3" fill="url(#v4)"/>
<rect x="238.4" y="619.4" width="51.2" height="74.5" fill="none" stroke="#0d3f58" stroke-opacity="0.7" stroke-width="0.8"/>
<rect x="238" y="619" width="52" height="75.3" fill="#06283c" filter="url(#nz)"/>
<ellipse cx="264.5" cy="645.05" rx="2" ry="9.75" fill="url(#s4)" opacity="0.5"/>
<ellipse cx="264.5" cy="668.55" rx="2" ry="9.75" fill="url(#s4)" opacity="0.5"/>
<circle cx="264.5" cy="656.8" r="2.5" fill="#ff1111"/>
<defs>
<radialGradient id="g5" gradientUnits="userSpaceOnUse" cx="324" cy="710" r="25.38" gradientTransform="translate(324 710) scale(1 1.31) translate(-324 -710)">
<stop offset="0" stop-color="#3df23c"/><stop offset="0.08" stop-color="#3df23c"/><stop offset="0.18" stop-color="#3ad85c"/><stop offset="0.3" stop-color="#3df23c"/><stop offset="0.44" stop-color="#3df23c"/><stop offset="0.7" stop-color="#27a676"/><stop offset="0.98" stop-color="#1a6475"/>
</radialGradient>
<radialGradient id="v5" gradientUnits="userSpaceOnUse" cx="323.7" cy="709.9" r="40.4" gradientTransform="translate(323.7 709.9) scale(1 1.46) translate(-323.7 -709.9)">
<stop offset="0.55" stop-color="#0d3f58" stop-opacity="0"/><stop offset="1" stop-color="#0d3f58" stop-opacity="0.85"/>
</radialGradient>
<radialGradient id="s5" cx="0.5" cy="0.5" r="0.5"><stop offset="0" stop-color="#2a7fa0" stop-opacity="1"/><stop offset="1" stop-color="#2a7fa0" stop-opacity="0"/></radialGradient>
</defs>
<rect x="297.8" y="672.2" width="51.8" height="75.4" fill="url(#g5)"/>
<rect x="297.8" y="672.2" width="51.8" height="75.4" fill="url(#v5)"/>
<rect x="298.2" y="672.6" width="51" height="74.6" fill="none" stroke="#0d3f58" stroke-opacity="0.7" stroke-width="0.8"/>
<rect x="297.8" y="672.2" width="51.8" height="75.4" fill="#06283c" filter="url(#nz)"/>
<ellipse cx="324" cy="702" rx="1.6" ry="6" fill="url(#s5)" opacity="0.25"/>
<ellipse cx="324" cy="718" rx="1.6" ry="6" fill="url(#s5)" opacity="0.25"/>
<circle cx="324" cy="710" r="2.5" fill="#ff1111"/>
<defs>
<radialGradient id="g6" gradientUnits="userSpaceOnUse" cx="311" cy="792" r="27.12" gradientTransform="translate(311 792) scale(1 1) translate(-311 -792)">
<stop offset="0" stop-color="#3df23c"/><stop offset="0.08" stop-color="#3df23c"/><stop offset="0.18" stop-color="#3ad85c"/><stop offset="0.3" stop-color="#3df23c"/><stop offset="0.44" stop-color="#3df23c"/><stop offset="0.7" stop-color="#27a676"/><stop offset="0.98" stop-color="#1a6475"/>
</radialGradient>
<radialGradient id="v6" gradientUnits="userSpaceOnUse" cx="311" cy="791.65" r="41.03" gradientTransform="translate(311 791.65) scale(1 1.4) translate(-311 -791.65)">
<stop offset="0.55" stop-color="#0d3f58" stop-opacity="0"/><stop offset="1" stop-color="#0d3f58" stop-opacity="0.85"/>
</radialGradient>
<radialGradient id="s6" cx="0.5" cy="0.5" r="0.5"><stop offset="0" stop-color="#2a7fa0" stop-opacity="1"/><stop offset="1" stop-color="#2a7fa0" stop-opacity="0"/></radialGradient>
</defs>
<rect x="284.7" y="754.8" width="52.6" height="73.7" fill="url(#g6)"/>
<rect x="284.7" y="754.8" width="52.6" height="73.7" fill="url(#v6)"/>
<rect x="285.1" y="755.2" width="51.8" height="72.9" fill="none" stroke="#0d3f58" stroke-opacity="0.7" stroke-width="0.8"/>
<rect x="284.7" y="754.8" width="52.6" height="73.7" fill="#06283c" filter="url(#nz)"/>
<ellipse cx="311" cy="783" rx="4.2" ry="4.6" fill="url(#s6)" opacity="0.25"/>
<ellipse cx="311" cy="801" rx="4.2" ry="4.6" fill="url(#s6)" opacity="0.25"/>
<circle cx="311" cy="792" r="2.5" fill="#ff1111"/>
<line x1="141" y1="822" x2="129.16" y2="804.31" stroke="#111" stroke-width="1.2" stroke-dasharray="3.1 1.9"/>
<path d="M123.6 796 L132.57 802.03 L125.75 806.59Z" fill="#111"/>
<line x1="149" y1="730" x2="133.3" y2="704.88" stroke="#111" stroke-width="1.2" stroke-dasharray="3.1 1.9"/>
<path d="M128 696.4 L136.78 702.71 L129.82 707.05Z" fill="#111"/>
<line x1="214" y1="723" x2="208.88" y2="705.98" stroke="#111" stroke-width="1.2" stroke-dasharray="3.1 1.9"/>
<path d="M206 696.4 L212.81 704.8 L204.95 707.16Z" fill="#111"/>
<line x1="268" y1="712" x2="257.56" y2="702.95" stroke="#111" stroke-width="1.2" stroke-dasharray="3.1 1.9"/>
<path d="M250 696.4 L260.24 699.85 L254.87 706.05Z" fill="#111"/>
<path d="M145.5 842 C145.53 838 145.3 840.67 145.6 830 C145.9 819.33 145.73 823.33 146.4 810 C147.07 796.67 146.73 803.33 147.6 790 C148.47 776.67 147.87 783.33 149 770 C150.13 756.67 149.67 760 151 750 C152.33 740 151.33 745.67 153 740 C154.67 734.33 153.67 736.53 156 733 C158.33 729.47 157 731.07 160 729.4 C163 727.73 161 728.33 165 728 C169 727.67 166.33 727.73 172 728.4 C177.67 729.07 174.67 728.93 182 730 C189.33 731.07 186 730.87 194 731.6 C202 732.33 198.8 731.93 206 732.2 C213.2 732.47 207.6 733.13 215.6 732.4 C223.6 731.67 218.53 732.47 230 730 C241.47 727.53 238 728.33 250 725 C262 721.67 257.67 722.73 266 720 C274.33 717.27 272 717.87 275 716.8" stroke="#ff0a0a" stroke-width="1.7" fill="none" stroke-linejoin="round" stroke-linecap="round"/>
<path d="M275 716.8 C275.67 718.53 276.47 716.27 277 722 C277.53 727.73 277.47 724.67 276.6 734 C275.73 743.33 276.6 739.33 274.4 750 C272.2 760.67 273.8 756 270 766 C266.2 776 268.33 771.33 263 780 C257.67 788.67 261 784.67 254 792 C247 799.33 250 796.33 242 802 C234 807.67 238 805 230 809 C222 813 224.67 811.33 218 814 C211.33 816.67 216 814.5 210 817 C204 819.5 206.67 818.5 200 821.5 C193.33 824.5 196.67 822.97 190 826 C183.33 829.03 186 827.93 180 830.6 C174 833.27 176.33 832.07 172 834 C167.67 835.93 168.67 835.6 167 836.4" stroke="#ff0a0a" stroke-width="1.7" fill="none" stroke-linejoin="round" stroke-linecap="round"/>
<line x1="212.6" y1="812.4" x2="289.6" y2="729.33" stroke="#c01414" stroke-width="1.2" stroke-dasharray="3.1 1.9"/>
<path d="M296.4 722 L292.61 732.12 L286.59 726.55Z" fill="#c01414"/>
<line x1="167" y1="836.4" x2="269.17" y2="817.43" stroke="#c01414" stroke-width="1.2" stroke-dasharray="3.1 1.9"/>
<path d="M279 815.6 L269.92 821.46 L268.42 813.39Z" fill="#c01414"/>
<path d="M146.6 820.3 L149.22 826.19 L155.64 826.86 L150.85 831.18 L152.18 837.49 L146.6 834.26 L141.02 837.49 L142.35 831.18 L137.56 826.86 L143.98 826.19Z" fill="#111"/>
<path d="M157 732.3 L159.62 738.19 L166.04 738.86 L161.25 743.18 L162.58 749.49 L157 746.26 L151.42 749.49 L152.75 743.18 L147.96 738.86 L154.38 738.19Z" fill="#111"/>
<path d="M215.6 726.9 L218.22 732.79 L224.64 733.46 L219.85 737.78 L221.18 744.09 L215.6 740.87 L210.02 744.09 L211.35 737.78 L206.56 733.46 L212.98 732.79Z" fill="#111"/>
<path d="M274.4 707.9 L277.02 713.79 L283.44 714.46 L278.65 718.78 L279.98 725.09 L274.4 721.87 L268.82 725.09 L270.15 718.78 L265.36 714.46 L271.78 713.79Z" fill="#111"/>
<path d="M167 830.2 L168.82 834.29 L173.28 834.76 L169.95 837.76 L170.88 842.14 L167 839.9 L163.12 842.14 L164.05 837.76 L160.72 834.76 L165.18 834.29Z" fill="#ff0a0a"/>
<path d="M212.6 808.4 L213.82 811.13 L216.78 811.44 L214.57 813.44 L215.19 816.36 L212.6 814.87 L210.01 816.36 L210.63 813.44 L208.42 811.44 L211.38 811.13Z" fill="#ff0a0a"/>
<rect x="67" y="610.2" width="288.7" height="231.7" fill="none" stroke="#000" stroke-width="1"/>
<line x1="62.6" y1="841.9" x2="67" y2="841.9" stroke="#000" stroke-width="1.5"/>
<text class="sa" x="58.3" y="847.9" font-size="18.9" text-anchor="end" stroke="#000" stroke-width="0.3">0</text>
<line x1="62.6" y1="787.3" x2="67" y2="787.3" stroke="#000" stroke-width="1.5"/>
<text class="sa" x="58.3" y="793.3" font-size="18.9" text-anchor="end" stroke="#000" stroke-width="0.3">4</text>
<line x1="62.6" y1="732.7" x2="67" y2="732.7" stroke="#000" stroke-width="1.5"/>
<text class="sa" x="58.3" y="738.7" font-size="18.9" text-anchor="end" stroke="#000" stroke-width="0.3">8</text>
<line x1="62.6" y1="678.1" x2="67" y2="678.1" stroke="#000" stroke-width="1.5"/>
<text class="sa" x="58.3" y="684.1" font-size="18.9" text-anchor="end" stroke="#000" stroke-width="0.3">12</text>
<line x1="62.6" y1="623.5" x2="67" y2="623.5" stroke="#000" stroke-width="1.5"/>
<text class="sa" x="58.3" y="629.5" font-size="18.9" text-anchor="end" stroke="#000" stroke-width="0.3">16</text>
<line x1="64.5" y1="814.6" x2="67" y2="814.6" stroke="#000" stroke-width="1.5"/>
<line x1="64.5" y1="760" x2="67" y2="760" stroke="#000" stroke-width="1.5"/>
<line x1="64.5" y1="705.4" x2="67" y2="705.4" stroke="#000" stroke-width="1.5"/>
<line x1="64.5" y1="650.8" x2="67" y2="650.8" stroke="#000" stroke-width="1.5"/>
<line x1="80.35" y1="841.9" x2="80.35" y2="846.3" stroke="#000" stroke-width="1.5"/>
<text class="sa" x="80.35" y="865.8" font-size="18.9" text-anchor="middle" stroke="#000" stroke-width="0.3">-100</text>
<line x1="146" y1="841.9" x2="146" y2="846.3" stroke="#000" stroke-width="1.5"/>
<text class="sa" x="146" y="865.8" font-size="18.9" text-anchor="middle" stroke="#000" stroke-width="0.3">0</text>
<line x1="211.65" y1="841.9" x2="211.65" y2="846.3" stroke="#000" stroke-width="1.5"/>
<text class="sa" x="211.65" y="865.8" font-size="18.9" text-anchor="middle" stroke="#000" stroke-width="0.3">100</text>
<line x1="277.3" y1="841.9" x2="277.3" y2="846.3" stroke="#000" stroke-width="1.5"/>
<text class="sa" x="277.3" y="865.8" font-size="18.9" text-anchor="middle" stroke="#000" stroke-width="0.3">200</text>
<line x1="342.95" y1="841.9" x2="342.95" y2="846.3" stroke="#000" stroke-width="1.5"/>
<text class="sa" x="342.95" y="865.8" font-size="18.9" text-anchor="middle" stroke="#000" stroke-width="0.3">300</text>
<line x1="113.18" y1="841.9" x2="113.18" y2="844.4" stroke="#000" stroke-width="1.5"/>
<line x1="178.82" y1="841.9" x2="178.82" y2="844.4" stroke="#000" stroke-width="1.5"/>
<line x1="244.47" y1="841.9" x2="244.47" y2="844.4" stroke="#000" stroke-width="1.5"/>
<line x1="310.12" y1="841.9" x2="310.12" y2="844.4" stroke="#000" stroke-width="1.5"/>
<text class="sa" x="22.3" y="625" font-size="22.3" text-anchor="middle" stroke="#000" stroke-width="0.3">E</text>
<text class="sa" x="30.5" y="727" font-size="19.8" text-anchor="middle" stroke="#000" stroke-width="0.3" transform="rotate(-90 30.5 727)">Stress (Mpa)</text>
<text class="sa" x="211.2" y="889.3" font-size="20.5" text-anchor="middle" stroke="#000" stroke-width="0.3">Strain (%)</text>
<path d="M453.5 805.5 C454.13 801.67 454.13 801.5 455.4 794 C456.67 786.5 455.4 793.43 457.3 783 C459.2 772.57 458.8 774.7 461.1 762.7 C463.4 750.7 461.9 756.23 464.2 747 C466.5 737.77 465.07 742.67 468 735 C470.93 727.33 469.67 730.67 473 724 C476.33 717.33 474.67 720 478 715 C481.33 710 479.33 712.27 483 709 C486.67 705.73 485.33 706.87 489 705.2 C492.67 703.53 488 704.6 494 704 C500 703.4 498 703.73 507 703.4 C516 703.07 510.67 703.2 521 703 C531.33 702.8 526.8 703.07 538 702.8 C549.2 702.53 543.6 703 554.6 702.2 C565.6 701.4 559.87 702.13 571 700.4 C582.13 698.67 576.67 699 588 697 C599.33 695 593.67 696.13 605 694.4 C616.33 692.67 611 693.67 622 691.8 C633 689.93 626.87 690.93 638 688.8 C649.13 686.67 643.07 688.47 655.4 685.4 C667.73 682.33 661.6 683.93 675 679.6 C688.4 675.27 682.27 677.27 695.6 672.4 C708.93 667.53 701.7 670 715 665 C728.3 660 728.67 659.93 735.5 657.4" stroke="#a01c1c" stroke-width="1.35" fill="none" stroke-linejoin="round" stroke-linecap="round" stroke-dasharray="5.4 4"/>
<path d="M494.07 788.46 l6.2 6.5 l-6.2 6.5 l-6.2 -6.5Z" fill="none" stroke="#d9821a" stroke-width="1.7"/>
<path d="M520.92 788.06 l6.2 6.5 l-6.2 6.5 l-6.2 -6.5Z" fill="none" stroke="#d9821a" stroke-width="1.7"/>
<path d="M554.49 794.28 l6.2 6.5 l-6.2 6.5 l-6.2 -6.5Z" fill="none" stroke="#d9821a" stroke-width="1.7"/>
<path d="M588.05 793.48 l6.2 6.5 l-6.2 6.5 l-6.2 -6.5Z" fill="none" stroke="#d9821a" stroke-width="1.7"/>
<path d="M621.61 802.51 l6.2 6.5 l-6.2 6.5 l-6.2 -6.5Z" fill="none" stroke="#d9821a" stroke-width="1.7"/>
<path d="M655.17 788.06 l6.2 6.5 l-6.2 6.5 l-6.2 -6.5Z" fill="none" stroke="#d9821a" stroke-width="1.7"/>
<path d="M695.45 798.5 l6.2 6.5 l-6.2 6.5 l-6.2 -6.5Z" fill="none" stroke="#d9821a" stroke-width="1.7"/>
<circle cx="494.07" cy="704.22" r="4.4" fill="none" stroke="#b21a1e" stroke-width="1.8"/>
<circle cx="520.92" cy="703.22" r="4.4" fill="none" stroke="#b21a1e" stroke-width="1.8"/>
<circle cx="554.49" cy="702.41" r="4.4" fill="none" stroke="#b21a1e" stroke-width="1.8"/>
<circle cx="588.05" cy="697.39" r="4.4" fill="none" stroke="#b21a1e" stroke-width="1.8"/>
<circle cx="621.61" cy="691.77" r="4.4" fill="none" stroke="#b21a1e" stroke-width="1.8"/>
<circle cx="655.17" cy="686.15" r="4.4" fill="none" stroke="#b21a1e" stroke-width="1.8"/>
<circle cx="695.45" cy="673.3" r="4.4" fill="none" stroke="#b21a1e" stroke-width="1.8"/>
<path d="M488.38 713.07 h11.4 l-5.7 9.6Z" fill="none" stroke="#0c8a48" stroke-width="1.9" stroke-linejoin="miter"/>
<path d="M515.22 712.26 h11.4 l-5.7 9.6Z" fill="none" stroke="#0c8a48" stroke-width="1.9" stroke-linejoin="miter"/>
<path d="M548.79 704.63 h11.4 l-5.7 9.6Z" fill="none" stroke="#0c8a48" stroke-width="1.9" stroke-linejoin="miter"/>
<path d="M582.35 700.62 h11.4 l-5.7 9.6Z" fill="none" stroke="#0c8a48" stroke-width="1.9" stroke-linejoin="miter"/>
<path d="M615.91 693.39 h11.4 l-5.7 9.6Z" fill="none" stroke="#0c8a48" stroke-width="1.9" stroke-linejoin="miter"/>
<path d="M649.47 686.57 h11.4 l-5.7 9.6Z" fill="none" stroke="#0c8a48" stroke-width="1.9" stroke-linejoin="miter"/>
<path d="M689.75 672.51 h11.4 l-5.7 9.6Z" fill="none" stroke="#0c8a48" stroke-width="1.9" stroke-linejoin="miter"/>
<circle cx="488" cy="626" r="4.4" fill="none" stroke="#b21a1e" stroke-width="1.8"/>
<path d="M488 642.3 l6.2 6.5 l-6.2 6.5 l-6.2 -6.5Z" fill="none" stroke="#d9821a" stroke-width="1.7"/>
<path d="M482.3 672.8 h11.4 l-5.7 9.6Z" fill="none" stroke="#0c8a48" stroke-width="1.9" stroke-linejoin="miter"/>
<text class="se" x="509" y="630.6" font-size="14.6" text-anchor="start">Stress-strain currve at RT</text>
<text class="se" x="508" y="654" font-size="14.6" style="font-weight:normal" text-anchor="start">(∂U/∂l)<tspan font-size="9.8" dy="2.8">T,V</tspan></text>
<text class="se" x="505.4" y="682" font-size="14.6" style="font-weight:normal" text-anchor="start">-T(∂S/∂l)<tspan font-size="9.8" dy="2.8">T,V</tspan></text>
<rect x="446.8" y="609.6" width="289.4" height="232.1" fill="none" stroke="#000" stroke-width="1.6"/>
<line x1="442.4" y1="806.2" x2="446.8" y2="806.2" stroke="#000" stroke-width="1.5"/>
<text class="sa" x="438.1" y="812.2" font-size="18.9" text-anchor="end" stroke="#000" stroke-width="0.3">0</text>
<line x1="442.4" y1="766.05" x2="446.8" y2="766.05" stroke="#000" stroke-width="1.5"/>
<text class="sa" x="438.1" y="772.05" font-size="18.9" text-anchor="end" stroke="#000" stroke-width="0.3">1</text>
<line x1="442.4" y1="725.9" x2="446.8" y2="725.9" stroke="#000" stroke-width="1.5"/>
<text class="sa" x="438.1" y="731.9" font-size="18.9" text-anchor="end" stroke="#000" stroke-width="0.3">2</text>
<line x1="442.4" y1="685.75" x2="446.8" y2="685.75" stroke="#000" stroke-width="1.5"/>
<text class="sa" x="438.1" y="691.75" font-size="18.9" text-anchor="end" stroke="#000" stroke-width="0.3">3</text>
<line x1="442.4" y1="645.6" x2="446.8" y2="645.6" stroke="#000" stroke-width="1.5"/>
<text class="sa" x="438.1" y="651.6" font-size="18.9" text-anchor="end" stroke="#000" stroke-width="0.3">4</text>
<line x1="444.3" y1="826.28" x2="446.8" y2="826.28" stroke="#000" stroke-width="1.5"/>
<line x1="444.3" y1="786.12" x2="446.8" y2="786.12" stroke="#000" stroke-width="1.5"/>
<line x1="444.3" y1="745.98" x2="446.8" y2="745.98" stroke="#000" stroke-width="1.5"/>
<line x1="444.3" y1="705.83" x2="446.8" y2="705.83" stroke="#000" stroke-width="1.5"/>
<line x1="444.3" y1="665.68" x2="446.8" y2="665.68" stroke="#000" stroke-width="1.5"/>
<line x1="444.3" y1="625.53" x2="446.8" y2="625.53" stroke="#000" stroke-width="1.5"/>
<line x1="453.8" y1="841.7" x2="453.8" y2="846.1" stroke="#000" stroke-width="1.5"/>
<text class="sa" x="453.8" y="865.6" font-size="18.9" text-anchor="middle" stroke="#000" stroke-width="0.3">0</text>
<line x1="507.5" y1="841.7" x2="507.5" y2="846.1" stroke="#000" stroke-width="1.5"/>
<text class="sa" x="507.5" y="865.6" font-size="18.9" text-anchor="middle" stroke="#000" stroke-width="0.3">40</text>
<line x1="561.2" y1="841.7" x2="561.2" y2="846.1" stroke="#000" stroke-width="1.5"/>
<text class="sa" x="561.2" y="865.6" font-size="18.9" text-anchor="middle" stroke="#000" stroke-width="0.3">80</text>
<line x1="614.9" y1="841.7" x2="614.9" y2="846.1" stroke="#000" stroke-width="1.5"/>
<text class="sa" x="614.9" y="865.6" font-size="18.9" text-anchor="middle" stroke="#000" stroke-width="0.3">120</text>
<line x1="668.6" y1="841.7" x2="668.6" y2="846.1" stroke="#000" stroke-width="1.5"/>
<text class="sa" x="668.6" y="865.6" font-size="18.9" text-anchor="middle" stroke="#000" stroke-width="0.3">160</text>
<line x1="722.3" y1="841.7" x2="722.3" y2="846.1" stroke="#000" stroke-width="1.5"/>
<text class="sa" x="722.3" y="865.6" font-size="18.9" text-anchor="middle" stroke="#000" stroke-width="0.3">200</text>
<line x1="480.65" y1="841.7" x2="480.65" y2="844.2" stroke="#000" stroke-width="1.5"/>
<line x1="534.35" y1="841.7" x2="534.35" y2="844.2" stroke="#000" stroke-width="1.5"/>
<line x1="588.05" y1="841.7" x2="588.05" y2="844.2" stroke="#000" stroke-width="1.5"/>
<line x1="641.75" y1="841.7" x2="641.75" y2="844.2" stroke="#000" stroke-width="1.5"/>
<line x1="695.45" y1="841.7" x2="695.45" y2="844.2" stroke="#000" stroke-width="1.5"/>
<text class="sa" x="406.6" y="628" font-size="22.3" text-anchor="middle" stroke="#000" stroke-width="0.3">F</text>
<text class="sa" x="413" y="726" font-size="19.8" text-anchor="middle" stroke="#000" stroke-width="0.3" transform="rotate(-90 413 726)">Stress (Mpa)</text>
<text class="sa" x="591.2" y="889.3" font-size="20.5" text-anchor="middle" stroke="#000" stroke-width="0.3">Strain (%)</text>
</svg>
</body>
</html>
